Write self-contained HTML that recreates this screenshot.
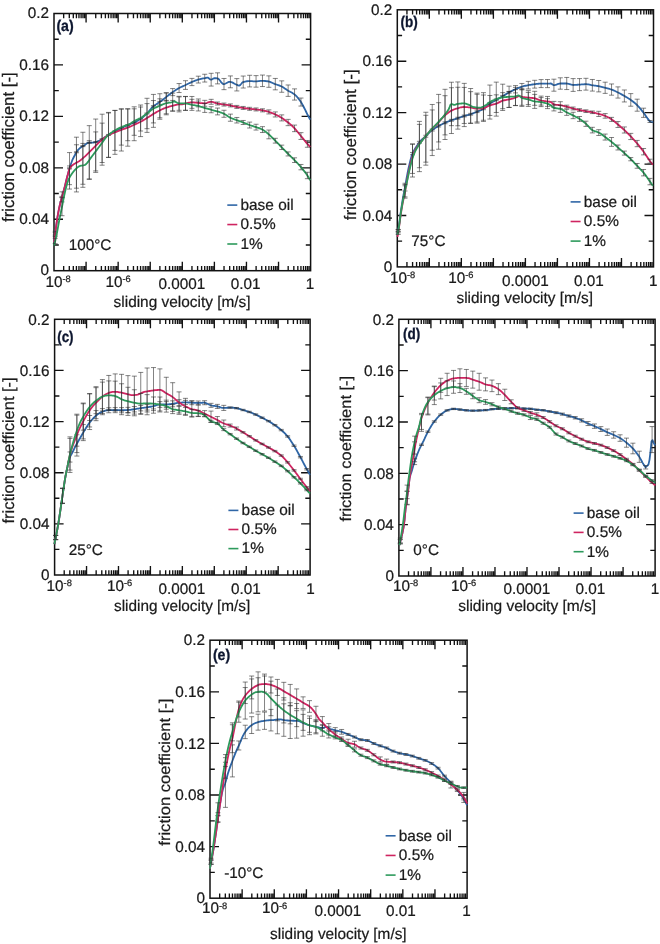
<!DOCTYPE html>
<html lang="en">
<head>
<meta charset="utf-8">
<title>Friction coefficient vs sliding velocity</title>
<style>
html,body{margin:0;padding:0;background:#fff;}
body{width:660px;height:944px;overflow:hidden;}
svg{display:block;will-change:transform;}
text{font-family:"Liberation Sans",sans-serif;fill:#1a1a1a;stroke:#1a1a1a;stroke-width:0.22px;text-rendering:geometricPrecision;}
.tk{font-size:15.3px;}
.tk2{font-size:15.3px;}
.lg{font-size:15.4px;}
.sup{font-size:9.3px;}
.ti{font-size:15.5px;}
.ty{font-size:16.7px;}
.tag{font-size:15.6px;font-weight:bold;fill:#0e1730;stroke:#0e1730;stroke-width:0.3px;font-family:"Liberation Sans","DejaVu Sans",sans-serif;}
</style>
</head>
<body>
<svg width="660" height="944" viewBox="0 0 660 944">
<rect width="660" height="944" fill="#ffffff"/>
<g>
<rect x="54" y="13.5" width="256.6" height="257.2" fill="none" stroke="#111111" stroke-width="1.5"/>
<path d="M63.66 270.7v-4.8M63.66 13.5v4.8M69.3 270.7v-4.8M69.3 13.5v4.8M73.31 270.7v-4.8M73.31 13.5v4.8M76.42 270.7v-4.8M76.42 13.5v4.8M78.96 270.7v-4.8M78.96 13.5v4.8M81.11 270.7v-4.8M81.11 13.5v4.8M82.97 270.7v-4.8M82.97 13.5v4.8M84.61 270.7v-4.8M84.61 13.5v4.8M86.08 270.7v-9M86.08 13.5v9M95.73 270.7v-4.8M95.73 13.5v4.8M101.38 270.7v-4.8M101.38 13.5v4.8M105.39 270.7v-4.8M105.39 13.5v4.8M108.49 270.7v-4.8M108.49 13.5v4.8M111.03 270.7v-4.8M111.03 13.5v4.8M113.18 270.7v-4.8M113.18 13.5v4.8M115.04 270.7v-4.8M115.04 13.5v4.8M116.68 270.7v-4.8M116.68 13.5v4.8M118.15 270.7v-9M118.15 13.5v9M127.81 270.7v-4.8M127.81 13.5v4.8M133.45 270.7v-4.8M133.45 13.5v4.8M137.46 270.7v-4.8M137.46 13.5v4.8M140.57 270.7v-4.8M140.57 13.5v4.8M143.11 270.7v-4.8M143.11 13.5v4.8M145.26 270.7v-4.8M145.26 13.5v4.8M147.12 270.7v-4.8M147.12 13.5v4.8M148.76 270.7v-4.8M148.76 13.5v4.8M150.23 270.7v-9M150.23 13.5v9M159.88 270.7v-4.8M159.88 13.5v4.8M165.53 270.7v-4.8M165.53 13.5v4.8M169.54 270.7v-4.8M169.54 13.5v4.8M172.64 270.7v-4.8M172.64 13.5v4.8M175.18 270.7v-4.8M175.18 13.5v4.8M177.33 270.7v-4.8M177.33 13.5v4.8M179.19 270.7v-4.8M179.19 13.5v4.8M180.83 270.7v-4.8M180.83 13.5v4.8M182.3 270.7v-9M182.3 13.5v9M191.96 270.7v-4.8M191.96 13.5v4.8M197.6 270.7v-4.8M197.6 13.5v4.8M201.61 270.7v-4.8M201.61 13.5v4.8M204.72 270.7v-4.8M204.72 13.5v4.8M207.26 270.7v-4.8M207.26 13.5v4.8M209.41 270.7v-4.8M209.41 13.5v4.8M211.27 270.7v-4.8M211.27 13.5v4.8M212.91 270.7v-4.8M212.91 13.5v4.8M214.38 270.7v-9M214.38 13.5v9M224.03 270.7v-4.8M224.03 13.5v4.8M229.68 270.7v-4.8M229.68 13.5v4.8M233.69 270.7v-4.8M233.69 13.5v4.8M236.79 270.7v-4.8M236.79 13.5v4.8M239.33 270.7v-4.8M239.33 13.5v4.8M241.48 270.7v-4.8M241.48 13.5v4.8M243.34 270.7v-4.8M243.34 13.5v4.8M244.98 270.7v-4.8M244.98 13.5v4.8M246.45 270.7v-9M246.45 13.5v9M256.11 270.7v-4.8M256.11 13.5v4.8M261.75 270.7v-4.8M261.75 13.5v4.8M265.76 270.7v-4.8M265.76 13.5v4.8M268.87 270.7v-4.8M268.87 13.5v4.8M271.41 270.7v-4.8M271.41 13.5v4.8M273.56 270.7v-4.8M273.56 13.5v4.8M275.42 270.7v-4.8M275.42 13.5v4.8M277.06 270.7v-4.8M277.06 13.5v4.8M278.53 270.7v-9M278.53 13.5v9M288.18 270.7v-4.8M288.18 13.5v4.8M293.83 270.7v-4.8M293.83 13.5v4.8M297.84 270.7v-4.8M297.84 13.5v4.8M300.94 270.7v-4.8M300.94 13.5v4.8M303.48 270.7v-4.8M303.48 13.5v4.8M305.63 270.7v-4.8M305.63 13.5v4.8M307.49 270.7v-4.8M307.49 13.5v4.8M309.13 270.7v-4.8M309.13 13.5v4.8M54 244.98h4.8M310.6 244.98h-4.8M54 219.26h9M310.6 219.26h-9M54 193.54h4.8M310.6 193.54h-4.8M54 167.82h9M310.6 167.82h-9M54 142.1h4.8M310.6 142.1h-4.8M54 116.38h9M310.6 116.38h-9M54 90.66h4.8M310.6 90.66h-4.8M54 64.94h9M310.6 64.94h-9M54 39.22h4.8M310.6 39.22h-4.8" stroke="#111111" stroke-width="1.35" fill="none"/>
<path d="M54.1 242.1 L55.1 234.57 L56.1 226.99 L57.1 219.46 L58.1 213.42 L59.1 208.3 L60.1 203.97 L61.1 200.1 L62.1 196.57 L63.1 193.1 L64.1 189.32 L65.1 185.39 L66.1 181.34 L67.1 177.25 L68.1 173.45 L69.1 169.84 L70.1 166.54 L71.1 163.46 L72.1 160.74 L73.1 158.49 L74.1 156.52 L75.1 154.7 L76.1 152.91 L77.1 151.25 L78.1 149.88 L79.1 148.81 L80.1 147.91 L81.1 147.18 L82.1 146.56 L83.1 146 L84.1 145.42 L85.1 144.72 L86.1 143.91 L87.1 143.22 L88.1 142.89 L89.1 142.79 L90.1 142.72 L91.1 142.68 L92.1 142.63 L93.1 142.57 L94.1 142.46 L95.1 142.26 L96.1 141.97 L97.1 141.61 L98.1 141.2 L99.1 140.77 L100.1 140.32 L101.1 139.78 L102.1 139.17 L103.1 138.5 L104.1 137.8 L105.1 137.11 L106.1 136.43 L107.1 135.8 L108.1 135.2 L109.1 134.61 L110.1 134.03 L111.1 133.45 L112.1 132.88 L113.1 132.32 L114.1 131.78 L115.1 131.24 L116.1 130.72 L117.1 130.2 L118.1 129.69 L119.1 129.19 L120.1 128.7 L121.1 128.22 L122.1 127.74 L123.1 127.27 L124.1 126.8 L125.1 126.34 L126.1 125.89 L127.1 125.44 L128.1 125.01 L129.1 124.58 L130.1 124.16 L131.1 123.77 L132.1 123.41 L133.1 123.03 L134.1 122.6 L135.1 122.12 L136.1 121.59 L137.1 121.03 L138.1 120.43 L139.1 119.8 L140.1 119.14 L141.1 118.45 L142.1 117.72 L143.1 116.94 L144.1 116.12 L145.1 115.25 L146.1 114.35 L147.1 113.4 L148.1 112.34 L149.1 111.15 L150.1 109.91 L151.1 108.7 L152.1 107.57 L153.1 106.61 L154.1 105.8 L155.1 105.06 L156.1 104.38 L157.1 103.73 L158.1 103.07 L159.1 102.39 L160.1 101.66 L161.1 100.92 L162.1 100.18 L163.1 99.42 L164.1 98.67 L165.1 97.91 L166.1 97.15 L167.1 96.37 L168.1 95.58 L169.1 94.79 L170.1 94.01 L171.1 93.24 L172.1 92.51 L173.1 91.81 L174.1 91.12 L175.1 90.45 L176.1 89.8 L177.1 89.18 L178.1 88.59 L179.1 88.04 L180.1 87.53 L181.1 87.06 L182.1 86.6 L183.1 86.15 L184.1 85.71 L185.1 85.25 L186.1 84.77 L187.1 84.28 L188.1 83.78 L189.1 83.29 L190.1 82.82 L191.1 82.36 L192.1 81.93 L193.1 81.51 L194.1 81.09 L195.1 80.7 L196.1 80.32 L197.1 79.98 L198.1 79.67 L199.1 79.4 L200.1 79.15 L201.1 78.92 L202.1 78.7 L203.1 78.49 L204.1 78.28 L205.1 78.06 L206.1 77.81 L207.1 77.63 L208.1 77.72 L209.1 78.47 L210.1 79.34 L211.1 79.7 L212.1 79.33 L213.1 78.69 L214.1 78.23 L215.1 78.21 L216.1 78.24 L217.1 78.29 L218.1 78.59 L219.1 79.5 L220.1 80.77 L221.1 82.12 L222.1 83.29 L223.1 84 L224.1 84.06 L225.1 83.76 L226.1 83.28 L227.1 82.73 L228.1 82.22 L229.1 81.88 L230.1 81.81 L231.1 82.01 L232.1 82.39 L233.1 82.89 L234.1 83.45 L235.1 83.99 L236.1 84.46 L237.1 84.91 L238.1 85.36 L239.1 85.6 L240.1 85.15 L241.1 83.98 L242.1 82.74 L243.1 82.07 L244.1 81.81 L245.1 81.58 L246.1 81.4 L247.1 81.25 L248.1 81.15 L249.1 81.1 L250.1 81.11 L251.1 81.15 L252.1 81.22 L253.1 81.29 L254.1 81.35 L255.1 81.39 L256.1 81.39 L257.1 81.32 L258.1 81.21 L259.1 81.08 L260.1 80.95 L261.1 80.85 L262.1 80.8 L263.1 80.82 L264.1 80.88 L265.1 80.98 L266.1 81.11 L267.1 81.26 L268.1 81.43 L269.1 81.63 L270.1 81.92 L271.1 82.31 L272.1 82.74 L273.1 83.2 L274.1 83.65 L275.1 84.06 L276.1 84.43 L277.1 84.77 L278.1 85.11 L279.1 85.46 L280.1 85.84 L281.1 86.26 L282.1 86.75 L283.1 87.33 L284.1 87.98 L285.1 88.66 L286.1 89.35 L287.1 90.03 L288.1 90.66 L289.1 91.23 L290.1 91.76 L291.1 92.28 L292.1 92.82 L293.1 93.43 L294.1 94.12 L295.1 94.95 L296.1 95.91 L297.1 96.98 L298.1 98.17 L299.1 99.44 L300.1 100.8 L301.1 102.25 L302.1 103.94 L303.1 105.8 L304.1 107.72 L305.1 109.68 L306.1 111.75 L307.1 113.8 L308.1 115.75 L309.1 117.64 L310.1 119.51 L310.2 119.7" stroke="#2f66a6" stroke-width="1.8" fill="none" stroke-linejoin="round"/>
<path d="M55.2 232.64V234.99M52.7 232.64h5M52.7 234.99h5M62.02 196.36V197.36M59.52 196.36h5M59.52 197.36h5M69.53 167.88V168.88M67.03 167.88h5M67.03 168.88h5M76.45 151.81V152.81M73.95 151.81h5M73.95 152.81h5M82.86 145.63V146.63M80.36 145.63h5M80.36 146.63h5M89.28 142.27V143.27M86.78 142.27h5M86.78 143.27h5M95.69 141.6V142.6M93.19 141.6h5M93.19 142.6h5M102.11 138.66V139.66M99.61 138.66h5M99.61 139.66h5M108.52 134.45V135.45M106.02 134.45h5M106.02 135.45h5M114.94 130.83V131.83M112.44 130.83h5M112.44 131.83h5M121.35 127.6V128.6M118.85 127.6h5M118.85 128.6h5M127.77 124.65V125.65M125.27 124.65h5M125.27 125.65h5M134.18 122.06V123.06M131.68 122.06h5M131.68 123.06h5M140.6 118.3V119.3M138.1 118.3h5M138.1 119.3h5M147.01 112.99V113.99M144.51 112.99h5M144.51 113.99h5M153.43 105.67V107M150.93 105.67h5M150.93 107h5M159.84 98.8V104.9M157.34 98.8h5M157.34 104.9h5M166.26 93.05V101.01M163.76 93.05h5M163.76 101.01h5M172.67 88.57V95.65M170.17 88.57h5M170.17 95.65h5M179.09 83.55V92.54M176.59 83.55h5M176.59 92.54h5M185.5 80.71V89.4M183 80.71h5M183 89.4h5M191.91 78.4V85.62M189.41 78.4h5M189.41 85.62h5M198.33 76.19V83.03M195.83 76.19h5M195.83 83.03h5M204.74 74.25V82.04M202.24 74.25h5M202.24 82.04h5M211.16 73.31V86.07M208.66 73.31h5M208.66 86.07h5M217.57 72.84V83.86M215.07 72.84h5M215.07 83.86h5M223.99 78.47V89.67M221.49 78.47h5M221.49 89.67h5M230.4 75.93V87.77M227.9 75.93h5M227.9 87.77h5M236.82 78.6V90.95M234.32 78.6h5M234.32 90.95h5M243.23 76.04V88.03M240.73 76.04h5M240.73 88.03h5M249.65 75.29V86.91M247.15 75.29h5M247.15 86.91h5M256.06 75.62V87.17M253.56 75.62h5M253.56 87.17h5M262.48 75.05V86.55M259.98 75.05h5M259.98 86.55h5M268.89 75.85V87.3M266.39 75.85h5M266.39 87.3h5M275.31 78.44V89.84M272.81 78.44h5M272.81 89.84h5M281.73 80.86V92.26M279.23 80.86h5M279.23 92.26h5M288.14 84.98V96.38M285.64 84.98h5M285.64 96.38h5M294.56 88.88V100.08M292.06 88.88h5M292.06 100.08h5M300.97 98.04V106.06M298.47 98.04h5M298.47 106.06h5" stroke="#2b2b2b" stroke-width="0.65" fill="none" opacity="0.9"/>
<path d="M54.1 242.1 L55.1 234.57 L56.1 226.99 L57.1 219.46 L58.1 213.42 L59.1 208.3 L60.1 203.97 L61.1 200.1 L62.1 196.57 L63.1 193.1 L64.1 189.32 L65.1 185.39 L66.1 181.31 L67.1 177.21 L68.1 173.41 L69.1 169.78 L70.1 167.65 L71.1 166.42 L72.1 165.52 L73.1 164.75 L74.1 164.03 L75.1 163.42 L76.1 162.87 L77.1 162.35 L78.1 161.79 L79.1 161.17 L80.1 160.46 L81.1 159.7 L82.1 158.9 L83.1 158.06 L84.1 157.19 L85.1 156.31 L86.1 155.39 L87.1 154.43 L88.1 153.44 L89.1 152.44 L90.1 151.42 L91.1 150.4 L92.1 149.4 L93.1 148.39 L94.1 147.36 L95.1 146.32 L96.1 145.29 L97.1 144.28 L98.1 143.3 L99.1 142.36 L100.1 141.47 L101.1 140.57 L102.1 139.7 L103.1 138.84 L104.1 138.03 L105.1 137.26 L106.1 136.56 L107.1 135.94 L108.1 135.39 L109.1 134.87 L110.1 134.4 L111.1 133.95 L112.1 133.52 L113.1 133.1 L114.1 132.69 L115.1 132.28 L116.1 131.87 L117.1 131.48 L118.1 131.1 L119.1 130.72 L120.1 130.35 L121.1 129.98 L122.1 129.61 L123.1 129.24 L124.1 128.88 L125.1 128.53 L126.1 128.17 L127.1 127.82 L128.1 127.45 L129.1 127.06 L130.1 126.66 L131.1 126.22 L132.1 125.75 L133.1 125.27 L134.1 124.8 L135.1 124.35 L136.1 123.9 L137.1 123.46 L138.1 123.01 L139.1 122.54 L140.1 122.06 L141.1 121.54 L142.1 120.98 L143.1 120.4 L144.1 119.79 L145.1 119.18 L146.1 118.56 L147.1 117.94 L148.1 117.31 L149.1 116.67 L150.1 116.03 L151.1 115.38 L152.1 114.75 L153.1 114.14 L154.1 113.54 L155.1 112.94 L156.1 112.35 L157.1 111.78 L158.1 111.23 L159.1 110.7 L160.1 110.2 L161.1 109.72 L162.1 109.25 L163.1 108.8 L164.1 108.38 L165.1 107.98 L166.1 107.63 L167.1 107.31 L168.1 107.02 L169.1 106.74 L170.1 106.48 L171.1 106.23 L172.1 105.98 L173.1 105.71 L174.1 105.41 L175.1 105.1 L176.1 104.81 L177.1 104.58 L178.1 104.43 L179.1 104.4 L180.1 104.4 L181.1 104.4 L182.1 104.39 L183.1 104.2 L184.1 103.9 L185.1 103.62 L186.1 103.4 L187.1 103.15 L188.1 102.91 L189.1 102.69 L190.1 102.52 L191.1 102.42 L192.1 102.4 L193.1 102.45 L194.1 102.52 L195.1 102.62 L196.1 102.73 L197.1 102.83 L198.1 102.91 L199.1 102.98 L200.1 103.07 L201.1 103.15 L202.1 103.22 L203.1 103.27 L204.1 103.3 L205.1 103.26 L206.1 103.07 L207.1 102.77 L208.1 102.43 L209.1 102.11 L210.1 101.88 L211.1 101.8 L212.1 101.9 L213.1 102.14 L214.1 102.46 L215.1 102.81 L216.1 103.14 L217.1 103.4 L218.1 103.6 L219.1 103.78 L220.1 103.96 L221.1 104.12 L222.1 104.28 L223.1 104.43 L224.1 104.57 L225.1 104.7 L226.1 104.82 L227.1 104.93 L228.1 105.05 L229.1 105.19 L230.1 105.35 L231.1 105.56 L232.1 105.8 L233.1 106.06 L234.1 106.32 L235.1 106.56 L236.1 106.78 L237.1 106.97 L238.1 107.14 L239.1 107.31 L240.1 107.46 L241.1 107.62 L242.1 107.77 L243.1 107.91 L244.1 108.06 L245.1 108.21 L246.1 108.36 L247.1 108.5 L248.1 108.63 L249.1 108.75 L250.1 108.87 L251.1 108.97 L252.1 109.06 L253.1 109.15 L254.1 109.24 L255.1 109.35 L256.1 109.46 L257.1 109.57 L258.1 109.69 L259.1 109.82 L260.1 109.96 L261.1 110.1 L262.1 110.27 L263.1 110.45 L264.1 110.65 L265.1 110.88 L266.1 111.13 L267.1 111.4 L268.1 111.68 L269.1 111.98 L270.1 112.32 L271.1 112.68 L272.1 113.07 L273.1 113.48 L274.1 113.91 L275.1 114.36 L276.1 114.82 L277.1 115.31 L278.1 115.82 L279.1 116.36 L280.1 116.93 L281.1 117.52 L282.1 118.13 L283.1 118.79 L284.1 119.47 L285.1 120.18 L286.1 120.92 L287.1 121.69 L288.1 122.48 L289.1 123.3 L290.1 124.14 L291.1 125.02 L292.1 125.94 L293.1 126.9 L294.1 127.9 L295.1 128.96 L296.1 130.1 L297.1 131.29 L298.1 132.52 L299.1 133.76 L300.1 134.99 L301.1 136.21 L302.1 137.43 L303.1 138.67 L304.1 139.92 L305.1 141.15 L306.1 142.37 L307.1 143.55 L308.1 144.69 L309.1 145.79 L310.1 146.89 L310.2 147" stroke="#cf2460" stroke-width="1.8" fill="none" stroke-linejoin="round"/>
<path d="M55.2 231.24V236.39M52.7 231.24h5M52.7 236.39h5M62.02 191.84V201.89M59.52 191.84h5M59.52 201.89h5M69.53 152.58V184.67M67.03 152.58h5M67.03 184.67h5M76.45 137.19V188.19M73.95 137.19h5M73.95 188.19h5M82.86 132.25V184.28M80.36 132.25h5M80.36 184.28h5M89.28 125.65V178.86M86.78 125.65h5M86.78 178.86h5M95.69 119.05V172.38M93.19 119.05h5M93.19 172.38h5M102.11 114.19V165.19M99.61 114.19h5M99.61 165.19h5M108.52 112.97V157.36M106.02 112.97h5M106.02 157.36h5M114.94 110.36V154.33M112.44 110.36h5M112.44 154.33h5M121.35 108.75V151.03M118.85 108.75h5M118.85 151.03h5M127.77 108.94V146.2M125.27 108.94h5M125.27 146.2h5M134.18 108.81V140.71M131.68 108.81h5M131.68 140.71h5M140.6 107V136.6M138.1 107h5M138.1 136.6h5M147.01 103.6V132.39M144.51 103.6h5M144.51 132.39h5M153.43 100.55V127.34M150.93 100.55h5M150.93 127.34h5M159.84 101.42V119.24M157.34 101.42h5M157.34 119.24h5M166.26 100.36V114.8M163.76 100.36h5M163.76 114.8h5M172.67 100.44V111.22M170.17 100.44h5M170.17 111.22h5M179.09 96.92V111.88M176.59 96.92h5M176.59 111.88h5M185.5 96.61V110.46M183 96.61h5M183 110.46h5M191.91 96.47V108.33M189.41 96.47h5M189.41 108.33h5M198.33 98.98V106.87M195.83 98.98h5M195.83 106.87h5M204.74 100.35V106.24M202.24 100.35h5M202.24 106.24h5M211.16 99.33V104.28M208.66 99.33h5M208.66 104.28h5M217.57 102V105M215.07 102h5M215.07 105h5M223.99 103.06V106.06M221.49 103.06h5M221.49 106.06h5M230.4 103.91V106.91M227.9 103.91h5M227.9 106.91h5M236.82 105.42V108.42M234.32 105.42h5M234.32 108.42h5M243.23 106.44V109.44M240.73 106.44h5M240.73 109.44h5M249.65 107.32V110.32M247.15 107.32h5M247.15 110.32h5M256.06 107.95V110.95M253.56 107.95h5M253.56 110.95h5M262.48 108.79V111.87M259.98 108.79h5M259.98 111.87h5M268.89 109.89V113.95M266.39 109.89h5M266.39 113.95h5M275.31 111.92V116.98M272.81 111.92h5M272.81 116.98h5M281.73 114.89V120.91M279.23 114.89h5M279.23 120.91h5M288.14 119.37V125.66M285.64 119.37h5M285.64 125.66h5M294.56 125.09V131.65M292.06 125.09h5M292.06 131.65h5M300.97 132.65V139.45M298.47 132.65h5M298.47 139.45h5M307.39 140.48V147.28M304.89 140.48h5M304.89 147.28h5" stroke="#2b2b2b" stroke-width="0.65" fill="none" opacity="0.9"/>
<path d="M54.2 245.5 L55.2 240.96 L56.2 236.43 L57.2 231.6 L58.2 226.12 L59.2 220.52 L60.2 215.53 L61.2 210.74 L62.2 205.75 L63.2 200.54 L64.2 195.67 L65.2 191.13 L66.2 187.07 L67.2 183.53 L68.2 180.45 L69.2 178.14 L70.2 176.36 L71.2 174.79 L72.2 173.31 L73.2 171.94 L74.2 170.73 L75.2 169.65 L76.2 168.59 L77.2 167.63 L78.2 166.84 L79.2 166.3 L80.2 165.97 L81.2 165.73 L82.2 165.51 L83.2 165.3 L84.2 165.12 L85.2 164.81 L86.2 164.01 L87.2 162.91 L88.2 161.65 L89.2 160.16 L90.2 158.73 L91.2 157.37 L92.2 156.03 L93.2 154.71 L94.2 153.39 L95.2 152.07 L96.2 150.73 L97.2 149.4 L98.2 148.07 L99.2 146.73 L100.2 145.4 L101.2 144.07 L102.2 142.7 L103.2 141.26 L104.2 139.81 L105.2 138.42 L106.2 137.17 L107.2 136.1 L108.2 135.18 L109.2 134.34 L110.2 133.55 L111.2 132.82 L112.2 132.13 L113.2 131.48 L114.2 130.86 L115.2 130.26 L116.2 129.7 L117.2 129.16 L118.2 128.64 L119.2 128.15 L120.2 127.68 L121.2 127.23 L122.2 126.79 L123.2 126.37 L124.2 126 L125.2 125.65 L126.2 125.31 L127.2 124.96 L128.2 124.59 L129.2 124.17 L130.2 123.7 L131.2 123.08 L132.2 122.37 L133.2 121.66 L134.2 121.04 L135.2 120.53 L136.2 120.06 L137.2 119.62 L138.2 119.19 L139.2 118.73 L140.2 118.22 L141.2 117.65 L142.2 117.01 L143.2 116.31 L144.2 115.59 L145.2 114.84 L146.2 114.09 L147.2 113.35 L148.2 112.57 L149.2 111.75 L150.2 110.92 L151.2 110.13 L152.2 109.4 L153.2 108.79 L154.2 108.25 L155.2 107.76 L156.2 107.3 L157.2 106.87 L158.2 106.45 L159.2 106.03 L160.2 105.59 L161.2 105.14 L162.2 104.68 L163.2 104.24 L164.2 103.84 L165.2 103.5 L166.2 103.23 L167.2 103.02 L168.2 102.85 L169.2 102.7 L170.2 102.55 L171.2 102.38 L172.2 102.15 L173.2 101.74 L174.2 101.4 L175.2 101.63 L176.2 102.17 L177.2 102.77 L178.2 103.21 L179.2 103.3 L180.2 103.3 L181.2 103.3 L182.2 103.3 L183.2 103.3 L184.2 103.3 L185.2 103.3 L186.2 103.37 L187.2 103.55 L188.2 103.82 L189.2 104.12 L190.2 104.42 L191.2 104.69 L192.2 104.9 L193.2 105.07 L194.2 105.23 L195.2 105.39 L196.2 105.55 L197.2 105.73 L198.2 105.95 L199.2 106.2 L200.2 106.5 L201.2 106.83 L202.2 107.16 L203.2 107.5 L204.2 107.81 L205.2 108.1 L206.2 108.39 L207.2 108.66 L208.2 108.94 L209.2 109.21 L210.2 109.48 L211.2 109.75 L212.2 110.02 L213.2 110.28 L214.2 110.54 L215.2 110.8 L216.2 111.08 L217.2 111.37 L218.2 111.67 L219.2 111.98 L220.2 112.31 L221.2 112.65 L222.2 113.02 L223.2 113.43 L224.2 113.89 L225.2 114.47 L226.2 115.12 L227.2 115.81 L228.2 116.48 L229.2 117.08 L230.2 117.59 L231.2 118.05 L232.2 118.47 L233.2 118.87 L234.2 119.25 L235.2 119.62 L236.2 120 L237.2 120.37 L238.2 120.72 L239.2 121.07 L240.2 121.41 L241.2 121.75 L242.2 122.11 L243.2 122.48 L244.2 122.87 L245.2 123.28 L246.2 123.69 L247.2 124.11 L248.2 124.51 L249.2 124.89 L250.2 125.25 L251.2 125.58 L252.2 125.9 L253.2 126.21 L254.2 126.53 L255.2 126.86 L256.2 127.21 L257.2 127.54 L258.2 127.87 L259.2 128.21 L260.2 128.58 L261.2 128.99 L262.2 129.45 L263.2 130 L264.2 130.65 L265.2 131.38 L266.2 132.17 L267.2 133 L268.2 133.85 L269.2 134.7 L270.2 135.62 L271.2 136.57 L272.2 137.56 L273.2 138.57 L274.2 139.59 L275.2 140.6 L276.2 141.61 L277.2 142.64 L278.2 143.67 L279.2 144.71 L280.2 145.76 L281.2 146.79 L282.2 147.83 L283.2 148.87 L284.2 149.91 L285.2 150.95 L286.2 151.98 L287.2 153 L288.2 154 L289.2 154.97 L290.2 155.93 L291.2 156.88 L292.2 157.83 L293.2 158.8 L294.2 159.8 L295.2 160.82 L296.2 161.86 L297.2 162.91 L298.2 163.99 L299.2 165.09 L300.2 166.23 L301.2 167.41 L302.2 168.6 L303.2 169.82 L304.2 171.08 L305.2 172.38 L306.2 173.76 L307.2 175.2 L308.2 176.79 L309.2 178.54 L310.2 180.3" stroke="#2d9a5c" stroke-width="1.8" fill="none" stroke-linejoin="round"/>
<path d="M55.2 238.27V243.66M52.7 238.27h5M52.7 243.66h5M62.02 197.7V215.71M59.52 197.7h5M59.52 215.71h5M69.53 165.95V189.07M67.03 165.95h5M67.03 189.07h5M76.45 144.75V191.93M73.95 144.75h5M73.95 191.93h5M82.86 143.43V187.3M80.36 143.43h5M80.36 187.3h5M89.28 140.65V179.45M86.78 140.65h5M86.78 179.45h5M95.69 131.91V170.92M93.19 131.91h5M93.19 170.92h5M102.11 123.13V162.53M99.61 123.13h5M99.61 162.53h5M108.52 112.41V157.4M106.02 112.41h5M106.02 157.4h5M114.94 110.46V150.38M112.44 110.46h5M112.44 150.38h5M121.35 109.21V145.11M118.85 109.21h5M118.85 145.11h5M127.77 108.8V140.71M125.27 108.8h5M125.27 140.71h5M134.18 106.81V135.3M131.68 106.81h5M131.68 135.3h5M140.6 105V131M138.1 105h5M138.1 131h5M147.01 98.29V128.69M144.51 98.29h5M144.51 128.69h5M153.43 94.41V122.91M150.93 94.41h5M150.93 122.91h5M159.84 93.73V117.77M157.34 93.73h5M157.34 117.77h5M166.26 92.68V113.75M163.76 92.68h5M163.76 113.75h5M172.67 93.09V110.92M170.17 93.09h5M170.17 110.92h5M179.09 96.3V110.3M176.59 96.3h5M176.59 110.3h5M185.5 96.41V110.2M183 96.41h5M183 110.2h5M191.91 99.32V110.36M189.41 99.32h5M189.41 110.36h5M198.33 101V110.95M195.83 101h5M195.83 110.95h5M204.74 103.53V112.41M202.24 103.53h5M202.24 112.41h5M211.16 106.73V112.75M208.66 106.73h5M208.66 112.75h5M217.57 108.07V114.89M215.07 108.07h5M215.07 114.89h5M223.99 110.28V117.29M221.49 110.28h5M221.49 117.29h5M230.4 114.14V121.24M227.9 114.14h5M227.9 121.24h5M236.82 117.47V122.99M234.32 117.47h5M234.32 122.99h5M243.23 120.46V124.52M240.73 120.46h5M240.73 124.52h5M249.65 122.1V128M247.15 122.1h5M247.15 128h5M256.06 124.26V130.06M253.56 124.26h5M253.56 130.06h5M262.48 126.67V132.52M259.98 126.67h5M259.98 132.52h5M268.89 130.06V138.81M266.39 130.06h5M266.39 138.81h5M275.31 138.32V143.1M272.81 138.32h5M272.81 143.1h5M281.73 145.14V149.53M279.23 145.14h5M279.23 149.53h5M288.14 151.93V155.95M285.64 151.93h5M285.64 155.95h5M294.56 157.83V162.49M292.06 157.83h5M292.06 162.49h5M300.97 164.46V169.81M298.47 164.46h5M298.47 169.81h5M307.39 172.27V178.68M304.89 172.27h5M304.89 178.68h5" stroke="#2b2b2b" stroke-width="0.65" fill="none" opacity="0.9"/>
<text x="49" y="274.6" text-anchor="end" class="tk">0</text>
<text x="49" y="223.96" text-anchor="end" class="tk">0.04</text>
<text x="49" y="172.52" text-anchor="end" class="tk">0.08</text>
<text x="49" y="121.08" text-anchor="end" class="tk">0.12</text>
<text x="49" y="69.64" text-anchor="end" class="tk">0.16</text>
<text x="49" y="18.2" text-anchor="end" class="tk">0.2</text>
<text x="45.4" y="286.55" class="tk">10<tspan dy="-4.7" class="sup">-8</tspan></text>
<text x="105.4" y="286.55" class="tk">10<tspan dy="-4.7" class="sup">-6</tspan></text>
<text x="182" y="289.15" class="tk" text-anchor="middle">0.0001</text>
<text x="245.6" y="289.15" class="tk" text-anchor="middle">0.01</text>
<text x="310" y="289.15" class="tk" text-anchor="middle">1</text>
<text x="113.6" y="306.5" class="ti" textLength="136.9" lengthAdjust="spacingAndGlyphs">sliding velocity [m/s]</text>
<text transform="translate(13.5 222) rotate(-90)" class="ty" style="font-size:16.7px" textLength="149.8" lengthAdjust="spacingAndGlyphs">friction coefficient [-]</text>
<text x="56.4" y="31" class="tag" textLength="17.3" lengthAdjust="spacingAndGlyphs">(a)</text>
<text x="68.65" y="249.9" class="tk2">100°C</text>
<path d="M227.3 205.1h10" stroke="#2f66a6" stroke-width="1.6"/>
<text x="240.5" y="209.9" class="lg">base oil</text>
<path d="M227.3 224.55h10" stroke="#cf2460" stroke-width="1.6"/>
<text x="240.5" y="229.35" class="lg">0.5%</text>
<path d="M227.3 244h10" stroke="#2d9a5c" stroke-width="1.6"/>
<text x="240.5" y="248.8" class="lg">1%</text>
</g>
<g>
<rect x="397.3" y="9.8" width="256.2" height="257.1" fill="none" stroke="#111111" stroke-width="1.5"/>
<path d="M406.94 266.9v-4.8M406.94 9.8v4.8M412.58 266.9v-4.8M412.58 9.8v4.8M416.58 266.9v-4.8M416.58 9.8v4.8M419.68 266.9v-4.8M419.68 9.8v4.8M422.22 266.9v-4.8M422.22 9.8v4.8M424.36 266.9v-4.8M424.36 9.8v4.8M426.22 266.9v-4.8M426.22 9.8v4.8M427.86 266.9v-4.8M427.86 9.8v4.8M429.32 266.9v-9M429.32 9.8v9M438.97 266.9v-4.8M438.97 9.8v4.8M444.6 266.9v-4.8M444.6 9.8v4.8M448.61 266.9v-4.8M448.61 9.8v4.8M451.71 266.9v-4.8M451.71 9.8v4.8M454.25 266.9v-4.8M454.25 9.8v4.8M456.39 266.9v-4.8M456.39 9.8v4.8M458.25 266.9v-4.8M458.25 9.8v4.8M459.88 266.9v-4.8M459.88 9.8v4.8M461.35 266.9v-9M461.35 9.8v9M470.99 266.9v-4.8M470.99 9.8v4.8M476.63 266.9v-4.8M476.63 9.8v4.8M480.63 266.9v-4.8M480.63 9.8v4.8M483.73 266.9v-4.8M483.73 9.8v4.8M486.27 266.9v-4.8M486.27 9.8v4.8M488.41 266.9v-4.8M488.41 9.8v4.8M490.27 266.9v-4.8M490.27 9.8v4.8M491.91 266.9v-4.8M491.91 9.8v4.8M493.38 266.9v-9M493.38 9.8v9M503.02 266.9v-4.8M503.02 9.8v4.8M508.65 266.9v-4.8M508.65 9.8v4.8M512.66 266.9v-4.8M512.66 9.8v4.8M515.76 266.9v-4.8M515.76 9.8v4.8M518.3 266.9v-4.8M518.3 9.8v4.8M520.44 266.9v-4.8M520.44 9.8v4.8M522.3 266.9v-4.8M522.3 9.8v4.8M523.93 266.9v-4.8M523.93 9.8v4.8M525.4 266.9v-9M525.4 9.8v9M535.04 266.9v-4.8M535.04 9.8v4.8M540.68 266.9v-4.8M540.68 9.8v4.8M544.68 266.9v-4.8M544.68 9.8v4.8M547.78 266.9v-4.8M547.78 9.8v4.8M550.32 266.9v-4.8M550.32 9.8v4.8M552.46 266.9v-4.8M552.46 9.8v4.8M554.32 266.9v-4.8M554.32 9.8v4.8M555.96 266.9v-4.8M555.96 9.8v4.8M557.42 266.9v-9M557.42 9.8v9M567.07 266.9v-4.8M567.07 9.8v4.8M572.7 266.9v-4.8M572.7 9.8v4.8M576.71 266.9v-4.8M576.71 9.8v4.8M579.81 266.9v-4.8M579.81 9.8v4.8M582.35 266.9v-4.8M582.35 9.8v4.8M584.49 266.9v-4.8M584.49 9.8v4.8M586.35 266.9v-4.8M586.35 9.8v4.8M587.98 266.9v-4.8M587.98 9.8v4.8M589.45 266.9v-9M589.45 9.8v9M599.09 266.9v-4.8M599.09 9.8v4.8M604.73 266.9v-4.8M604.73 9.8v4.8M608.73 266.9v-4.8M608.73 9.8v4.8M611.83 266.9v-4.8M611.83 9.8v4.8M614.37 266.9v-4.8M614.37 9.8v4.8M616.51 266.9v-4.8M616.51 9.8v4.8M618.37 266.9v-4.8M618.37 9.8v4.8M620.01 266.9v-4.8M620.01 9.8v4.8M621.48 266.9v-9M621.48 9.8v9M631.12 266.9v-4.8M631.12 9.8v4.8M636.75 266.9v-4.8M636.75 9.8v4.8M640.76 266.9v-4.8M640.76 9.8v4.8M643.86 266.9v-4.8M643.86 9.8v4.8M646.4 266.9v-4.8M646.4 9.8v4.8M648.54 266.9v-4.8M648.54 9.8v4.8M650.4 266.9v-4.8M650.4 9.8v4.8M652.03 266.9v-4.8M652.03 9.8v4.8M397.3 241.19h4.8M653.5 241.19h-4.8M397.3 215.48h9M653.5 215.48h-9M397.3 189.77h4.8M653.5 189.77h-4.8M397.3 164.06h9M653.5 164.06h-9M397.3 138.35h4.8M653.5 138.35h-4.8M397.3 112.64h9M653.5 112.64h-9M397.3 86.93h4.8M653.5 86.93h-4.8M397.3 61.22h9M653.5 61.22h-9M397.3 35.51h4.8M653.5 35.51h-4.8" stroke="#111111" stroke-width="1.35" fill="none"/>
<path d="M397.5 234.5 L398.5 228.77 L399.5 221.56 L400.5 213.9 L401.5 207.05 L402.5 200.7 L403.5 195.02 L404.5 189.8 L405.5 184.37 L406.5 178.65 L407.5 173.3 L408.5 168.5 L409.5 164.12 L410.5 160.07 L411.5 156.38 L412.5 153.62 L413.5 151.54 L414.5 149.72 L415.5 147.99 L416.5 146.39 L417.5 144.91 L418.5 143.51 L419.5 142.18 L420.5 140.96 L421.5 139.9 L422.5 139.04 L423.5 138.27 L424.5 137.47 L425.5 136.55 L426.5 135.53 L427.5 134.46 L428.5 133.39 L429.5 132.36 L430.5 131.42 L431.5 130.6 L432.5 129.85 L433.5 129.15 L434.5 128.48 L435.5 127.84 L436.5 127.23 L437.5 126.64 L438.5 126.07 L439.5 125.52 L440.5 124.98 L441.5 124.47 L442.5 123.97 L443.5 123.49 L444.5 123.03 L445.5 122.59 L446.5 122.17 L447.5 121.76 L448.5 121.37 L449.5 120.99 L450.5 120.62 L451.5 120.26 L452.5 119.92 L453.5 119.59 L454.5 119.27 L455.5 118.95 L456.5 118.63 L457.5 118.3 L458.5 117.96 L459.5 117.6 L460.5 117.24 L461.5 116.89 L462.5 116.55 L463.5 116.22 L464.5 115.92 L465.5 115.65 L466.5 115.4 L467.5 115.15 L468.5 114.89 L469.5 114.61 L470.5 114.3 L471.5 113.96 L472.5 113.58 L473.5 113.18 L474.5 112.77 L475.5 112.35 L476.5 111.94 L477.5 111.54 L478.5 111.16 L479.5 110.77 L480.5 110.36 L481.5 109.91 L482.5 109.42 L483.5 108.83 L484.5 108.1 L485.5 107.26 L486.5 106.36 L487.5 105.45 L488.5 104.59 L489.5 103.81 L490.5 103.14 L491.5 102.53 L492.5 101.95 L493.5 101.4 L494.5 100.85 L495.5 100.31 L496.5 99.74 L497.5 99.17 L498.5 98.61 L499.5 98.05 L500.5 97.48 L501.5 96.91 L502.5 96.33 L503.5 95.74 L504.5 95.13 L505.5 94.51 L506.5 93.88 L507.5 93.27 L508.5 92.69 L509.5 92.14 L510.5 91.62 L511.5 91.11 L512.5 90.62 L513.5 90.15 L514.5 89.69 L515.5 89.24 L516.5 88.8 L517.5 88.36 L518.5 87.92 L519.5 87.51 L520.5 87.13 L521.5 86.79 L522.5 86.5 L523.5 86.23 L524.5 85.98 L525.5 85.75 L526.5 85.53 L527.5 85.33 L528.5 85.14 L529.5 84.97 L530.5 84.8 L531.5 84.64 L532.5 84.49 L533.5 84.35 L534.5 84.22 L535.5 84.1 L536.5 83.98 L537.5 83.85 L538.5 83.74 L539.5 83.66 L540.5 83.61 L541.5 83.6 L542.5 83.6 L543.5 83.6 L544.5 83.6 L545.5 83.6 L546.5 83.6 L547.5 83.6 L548.5 83.58 L549.5 83.54 L550.5 83.5 L551.5 83.68 L552.5 84.43 L553.5 85.12 L554.5 85.16 L555.5 84.93 L556.5 84.59 L557.5 84.19 L558.5 83.83 L559.5 83.57 L560.5 83.5 L561.5 83.5 L562.5 83.5 L563.5 83.5 L564.5 83.5 L565.5 83.5 L566.5 83.5 L567.5 83.55 L568.5 83.76 L569.5 84.08 L570.5 84.42 L571.5 84.74 L572.5 84.95 L573.5 85 L574.5 84.97 L575.5 84.92 L576.5 84.85 L577.5 84.77 L578.5 84.69 L579.5 84.62 L580.5 84.55 L581.5 84.47 L582.5 84.39 L583.5 84.31 L584.5 84.25 L585.5 84.21 L586.5 84.21 L587.5 84.3 L588.5 84.46 L589.5 84.67 L590.5 84.9 L591.5 85.12 L592.5 85.3 L593.5 85.45 L594.5 85.58 L595.5 85.71 L596.5 85.84 L597.5 85.99 L598.5 86.15 L599.5 86.34 L600.5 86.56 L601.5 86.8 L602.5 87.07 L603.5 87.34 L604.5 87.61 L605.5 87.88 L606.5 88.14 L607.5 88.4 L608.5 88.66 L609.5 88.94 L610.5 89.24 L611.5 89.56 L612.5 89.92 L613.5 90.33 L614.5 90.77 L615.5 91.25 L616.5 91.75 L617.5 92.25 L618.5 92.75 L619.5 93.26 L620.5 93.8 L621.5 94.34 L622.5 94.9 L623.5 95.47 L624.5 96.04 L625.5 96.62 L626.5 97.21 L627.5 97.8 L628.5 98.41 L629.5 99.05 L630.5 99.72 L631.5 100.43 L632.5 101.17 L633.5 101.95 L634.5 102.77 L635.5 103.63 L636.5 104.54 L637.5 105.5 L638.5 106.54 L639.5 107.67 L640.5 108.86 L641.5 110.11 L642.5 111.38 L643.5 112.67 L644.5 114.02 L645.5 115.47 L646.5 116.93 L647.5 118.33 L648.5 119.62 L649.5 120.97 L650.5 121.8 L651.5 122.04 L652.5 122.19 L653.2 122.3" stroke="#2f66a6" stroke-width="1.8" fill="none" stroke-linejoin="round"/>
<path d="M398.2 229.45V231.63M395.7 229.45h5M395.7 231.63h5M405 183.25V190.99M402.5 183.25h5M402.5 190.99h5M412.51 152.46V154.73M410.01 152.46h5M410.01 154.73h5M419.41 141.3V143.27M416.91 141.3h5M416.91 143.27h5M425.82 135.26V137.2M423.32 135.26h5M423.32 137.2h5M432.22 129.09V131.01M429.72 129.09h5M429.72 131.01h5M438.63 125.05V126.94M436.13 125.05h5M436.13 126.94h5M445.03 121.86V123.73M442.53 121.86h5M442.53 123.73h5M451.44 119.36V121.2M448.94 119.36h5M448.94 121.2h5M457.84 117.28V119.09M455.34 117.28h5M455.34 119.09h5M464.25 115.1V116.89M461.75 115.1h5M461.75 116.89h5M470.65 113.37V115.13M468.15 113.37h5M468.15 115.13h5M477.06 110.85V112.58M474.56 110.85h5M474.56 112.58h5M483.46 108V109.71M480.96 108h5M480.96 109.71h5M489.87 102.71V104.39M487.37 102.71h5M487.37 104.39h5M496.27 99.04V100.7M493.77 99.04h5M493.77 100.7h5M502.68 95.42V97.04M500.18 95.42h5M500.18 97.04h5M509.08 91.56V93.16M506.58 91.56h5M506.58 93.16h5M515.49 85.6V92.9M512.99 85.6h5M512.99 92.9h5M521.89 83.46V89.88M519.39 83.46h5M519.39 89.88h5M528.3 81.38V88.98M525.8 81.38h5M525.8 88.98h5M534.7 80.3V88.1M532.2 80.3h5M532.2 88.1h5M541.11 79.6V87.6M538.61 79.6h5M538.61 87.6h5M547.51 79.56V87.64M545.01 79.56h5M545.01 87.64h5M553.92 79.2V91.2M551.42 79.2h5M551.42 91.2h5M560.32 77.8V89.2M557.82 77.8h5M557.82 89.2h5M566.73 77.45V89.55M564.23 77.45h5M564.23 89.55h5M573.13 78.6V91.4M570.63 78.6h5M570.63 91.4h5M579.54 78.59V90.64M577.04 78.59h5M577.04 90.64h5M585.94 78.3V90.11M583.44 78.3h5M583.44 90.11h5M592.35 79.47V91.08M589.85 79.47h5M589.85 91.08h5M598.75 80.49V91.89M596.25 80.49h5M596.25 91.89h5M605.16 82.19V93.39M602.66 82.19h5M602.66 93.39h5M611.56 83.98V95.18M609.06 83.98h5M609.06 95.18h5M617.97 86.88V98.08M615.47 86.88h5M615.47 98.08h5M624.37 89.98V101.96M621.87 89.98h5M621.87 101.96h5M630.78 93.62V106.21M628.28 93.62h5M628.28 106.21h5M637.18 99.18V111.19M634.68 99.18h5M634.68 111.19h5M643.59 108.18V117.39M641.09 108.18h5M641.09 117.39h5M649.99 120.49V122.5M647.49 120.49h5M647.49 122.5h5" stroke="#2b2b2b" stroke-width="0.65" fill="none" opacity="0.9"/>
<path d="M397.5 236.8 L398.5 231.06 L399.5 223.85 L400.5 216.33 L401.5 209.92 L402.5 204.1 L403.5 198.96 L404.5 194.27 L405.5 189.15 L406.5 183.46 L407.5 177.98 L408.5 172.94 L409.5 168.27 L410.5 164.03 L411.5 160.16 L412.5 156.83 L413.5 153.89 L414.5 151.49 L415.5 149.56 L416.5 147.89 L417.5 146.38 L418.5 144.96 L419.5 143.65 L420.5 142.42 L421.5 141.21 L422.5 139.98 L423.5 138.75 L424.5 137.54 L425.5 136.33 L426.5 135.12 L427.5 133.92 L428.5 132.73 L429.5 131.56 L430.5 130.44 L431.5 129.37 L432.5 128.36 L433.5 127.39 L434.5 126.44 L435.5 125.48 L436.5 124.51 L437.5 123.5 L438.5 122.41 L439.5 121.27 L440.5 120.11 L441.5 118.95 L442.5 117.82 L443.5 116.75 L444.5 115.77 L445.5 114.89 L446.5 114.03 L447.5 113.21 L448.5 112.44 L449.5 111.74 L450.5 111.13 L451.5 110.6 L452.5 110.12 L453.5 109.68 L454.5 109.28 L455.5 108.91 L456.5 108.59 L457.5 108.3 L458.5 108.02 L459.5 107.75 L460.5 107.48 L461.5 107.26 L462.5 107.1 L463.5 107.01 L464.5 107.01 L465.5 107.05 L466.5 107.11 L467.5 107.2 L468.5 107.31 L469.5 107.42 L470.5 107.54 L471.5 107.72 L472.5 107.96 L473.5 108.21 L474.5 108.45 L475.5 108.62 L476.5 108.7 L477.5 108.69 L478.5 108.66 L479.5 108.6 L480.5 108.53 L481.5 108.44 L482.5 108.34 L483.5 108.2 L484.5 107.91 L485.5 107.5 L486.5 107.02 L487.5 106.51 L488.5 106.03 L489.5 105.61 L490.5 105.28 L491.5 104.99 L492.5 104.72 L493.5 104.46 L494.5 104.19 L495.5 103.9 L496.5 103.56 L497.5 103.14 L498.5 102.65 L499.5 102.11 L500.5 101.58 L501.5 101.11 L502.5 100.72 L503.5 100.45 L504.5 100.24 L505.5 100.06 L506.5 99.89 L507.5 99.73 L508.5 99.55 L509.5 99.33 L510.5 99.09 L511.5 98.84 L512.5 98.57 L513.5 98.28 L514.5 97.97 L515.5 97.63 L516.5 97.18 L517.5 96.62 L518.5 96.19 L519.5 96.13 L520.5 96.41 L521.5 96.73 L522.5 96.92 L523.5 97.06 L524.5 97.19 L525.5 97.31 L526.5 97.41 L527.5 97.52 L528.5 97.63 L529.5 97.73 L530.5 97.82 L531.5 97.91 L532.5 98.01 L533.5 98.13 L534.5 98.27 L535.5 98.48 L536.5 98.83 L537.5 99.25 L538.5 99.7 L539.5 100.12 L540.5 100.46 L541.5 100.67 L542.5 100.82 L543.5 100.94 L544.5 101.05 L545.5 101.15 L546.5 101.27 L547.5 101.42 L548.5 101.57 L549.5 101.74 L550.5 101.98 L551.5 102.44 L552.5 103.38 L553.5 104.23 L554.5 104.53 L555.5 104.69 L556.5 104.8 L557.5 104.89 L558.5 104.98 L559.5 105.09 L560.5 105.23 L561.5 105.42 L562.5 105.63 L563.5 105.86 L564.5 106.11 L565.5 106.37 L566.5 106.62 L567.5 106.88 L568.5 107.16 L569.5 107.45 L570.5 107.74 L571.5 108.03 L572.5 108.31 L573.5 108.58 L574.5 108.84 L575.5 109.1 L576.5 109.35 L577.5 109.59 L578.5 109.82 L579.5 110.04 L580.5 110.24 L581.5 110.42 L582.5 110.6 L583.5 110.76 L584.5 110.93 L585.5 111.1 L586.5 111.27 L587.5 111.43 L588.5 111.6 L589.5 111.76 L590.5 111.93 L591.5 112.1 L592.5 112.3 L593.5 112.52 L594.5 112.75 L595.5 113 L596.5 113.27 L597.5 113.54 L598.5 113.82 L599.5 114.09 L600.5 114.37 L601.5 114.66 L602.5 114.96 L603.5 115.28 L604.5 115.63 L605.5 116.02 L606.5 116.47 L607.5 116.96 L608.5 117.5 L609.5 118.09 L610.5 118.7 L611.5 119.34 L612.5 120.01 L613.5 120.75 L614.5 121.55 L615.5 122.39 L616.5 123.25 L617.5 124.11 L618.5 124.95 L619.5 125.78 L620.5 126.61 L621.5 127.46 L622.5 128.32 L623.5 129.2 L624.5 130.11 L625.5 131.05 L626.5 132.03 L627.5 133.04 L628.5 134.07 L629.5 135.12 L630.5 136.18 L631.5 137.24 L632.5 138.31 L633.5 139.39 L634.5 140.49 L635.5 141.62 L636.5 142.76 L637.5 143.94 L638.5 145.14 L639.5 146.36 L640.5 147.62 L641.5 148.9 L642.5 150.22 L643.5 151.56 L644.5 152.98 L645.5 154.48 L646.5 156.03 L647.5 157.58 L648.5 159.09 L649.5 160.53 L650.5 161.84 L651.5 163.05 L652.5 164.22 L652.9 164.7" stroke="#cf2460" stroke-width="1.8" fill="none" stroke-linejoin="round"/>
<path d="M398.2 231.19V234.48M395.7 231.19h5M395.7 234.48h5M405 185.77V198.15M402.5 185.77h5M402.5 198.15h5M412.51 144.19V173.41M410.01 144.19h5M410.01 173.41h5M419.41 124.36V167.73M416.91 124.36h5M416.91 167.73h5M425.82 115.29V162.16M423.32 115.29h5M423.32 162.16h5M432.22 109.94V150.24M429.72 109.94h5M429.72 150.24h5M438.63 102.71V141.94M436.13 102.71h5M436.13 141.94h5M445.03 95.69V134.89M442.53 95.69h5M442.53 134.89h5M451.44 87.73V133.52M448.94 87.73h5M448.94 133.52h5M457.84 87.27V129.14M455.34 87.27h5M455.34 129.14h5M464.25 87.41V126.59M461.75 87.41h5M461.75 126.59h5M470.65 91.67V123.45M468.15 91.67h5M468.15 123.45h5M477.06 94.27V123.12M474.56 94.27h5M474.56 123.12h5M483.46 95V121.42M480.96 95h5M480.96 121.42h5M489.87 95.49V115.46M487.37 95.49h5M487.37 115.46h5M496.27 94.82V112.47M493.77 94.82h5M493.77 112.47h5M502.68 92.64V108.69M500.18 92.64h5M500.18 108.69h5M509.08 91.43V107.43M506.58 91.43h5M506.58 107.43h5M515.49 89.64V105.64M512.99 89.64h5M512.99 105.64h5M521.89 88.34V105.29M519.39 88.34h5M519.39 105.29h5M528.3 90.61V104.61M525.8 90.61h5M525.8 104.61h5M534.7 91.3V105.3M532.2 91.3h5M532.2 105.3h5M541.11 96.1V105.1M538.61 96.1h5M538.61 105.1h5M547.51 96.45V106.38M545.01 96.45h5M545.01 106.38h5M553.92 101.4V107.41M551.42 101.4h5M551.42 107.41h5M560.32 101.71V108.7M557.82 101.71h5M557.82 108.7h5M566.73 105.16V108.2M564.23 105.16h5M564.23 108.2h5M573.13 107.03V109.93M570.63 107.03h5M570.63 109.93h5M579.54 108.65V111.45M577.04 108.65h5M577.04 111.45h5M585.94 109.82V112.52M583.44 109.82h5M583.44 112.52h5M592.35 110.97V113.57M589.85 110.97h5M589.85 113.57h5M598.75 111.3V116.48M596.25 111.3h5M596.25 116.48h5M605.16 113.58V118.19M602.66 113.58h5M602.66 118.19h5M611.56 117.37V121.4M609.06 117.37h5M609.06 121.4h5M617.97 121.54V127.47M615.47 121.54h5M615.47 127.47h5M624.37 126.94V133.04M621.87 126.94h5M621.87 133.04h5M630.78 133.37V139.57M628.28 133.37h5M628.28 139.57h5M637.18 140.41V146.71M634.68 140.41h5M634.68 146.71h5M643.59 148.49V154.89M641.09 148.49h5M641.09 154.89h5M649.99 159.19V163.19M647.49 159.19h5M647.49 163.19h5" stroke="#2b2b2b" stroke-width="0.65" fill="none" opacity="0.9"/>
<path d="M397.5 234.5 L398.5 229.72 L399.5 222.79 L400.5 215.13 L401.5 208.72 L402.5 202.9 L403.5 197.67 L404.5 192.9 L405.5 188.25 L406.5 183.74 L407.5 179.24 L408.5 174.59 L409.5 170.06 L410.5 165.85 L411.5 161.9 L412.5 158.51 L413.5 155.48 L414.5 152.84 L415.5 150.66 L416.5 148.8 L417.5 147.14 L418.5 145.6 L419.5 144.11 L420.5 142.73 L421.5 141.42 L422.5 140.13 L423.5 138.82 L424.5 137.55 L425.5 136.32 L426.5 135.11 L427.5 133.92 L428.5 132.75 L429.5 131.59 L430.5 130.46 L431.5 129.35 L432.5 128.27 L433.5 127.21 L434.5 126.17 L435.5 125.13 L436.5 124.07 L437.5 122.99 L438.5 121.9 L439.5 120.82 L440.5 119.73 L441.5 118.62 L442.5 117.49 L443.5 116.31 L444.5 115.08 L445.5 113.81 L446.5 112.52 L447.5 111.13 L448.5 109.57 L449.5 107.49 L450.5 104.63 L451.5 103.94 L452.5 104.31 L453.5 104.74 L454.5 104.89 L455.5 104.62 L456.5 104.2 L457.5 103.9 L458.5 103.77 L459.5 103.66 L460.5 103.56 L461.5 103.48 L462.5 103.43 L463.5 103.4 L464.5 103.44 L465.5 103.63 L466.5 103.94 L467.5 104.29 L468.5 104.65 L469.5 105.13 L470.5 105.7 L471.5 106.27 L472.5 106.74 L473.5 107.02 L474.5 107.19 L475.5 107.35 L476.5 107.49 L477.5 107.6 L478.5 107.67 L479.5 107.7 L480.5 107.63 L481.5 107.37 L482.5 106.95 L483.5 106.43 L484.5 105.85 L485.5 105.25 L486.5 104.65 L487.5 103.88 L488.5 103.04 L489.5 102.29 L490.5 101.7 L491.5 101.17 L492.5 100.68 L493.5 100.23 L494.5 99.81 L495.5 99.42 L496.5 99.07 L497.5 98.72 L498.5 98.38 L499.5 98.07 L500.5 97.78 L501.5 97.54 L502.5 97.36 L503.5 97.23 L504.5 97.13 L505.5 97.05 L506.5 96.98 L507.5 96.91 L508.5 96.85 L509.5 96.78 L510.5 96.72 L511.5 96.68 L512.5 96.64 L513.5 96.58 L514.5 96.51 L515.5 96.41 L516.5 96.07 L517.5 95.51 L518.5 95.32 L519.5 95.91 L520.5 96.9 L521.5 97.75 L522.5 98.14 L523.5 98.42 L524.5 98.64 L525.5 98.83 L526.5 99.02 L527.5 99.23 L528.5 99.48 L529.5 99.8 L530.5 100.14 L531.5 100.5 L532.5 100.84 L533.5 101.14 L534.5 101.37 L535.5 101.52 L536.5 101.63 L537.5 101.72 L538.5 101.81 L539.5 101.9 L540.5 102.02 L541.5 102.16 L542.5 102.33 L543.5 102.53 L544.5 102.76 L545.5 103.01 L546.5 103.31 L547.5 103.64 L548.5 104.07 L549.5 104.62 L550.5 105.24 L551.5 105.97 L552.5 106.93 L553.5 107.73 L554.5 108.05 L555.5 108.24 L556.5 108.37 L557.5 108.48 L558.5 108.59 L559.5 108.73 L560.5 108.95 L561.5 109.31 L562.5 109.81 L563.5 110.4 L564.5 111.03 L565.5 111.66 L566.5 112.24 L567.5 112.75 L568.5 113.24 L569.5 113.71 L570.5 114.18 L571.5 114.66 L572.5 115.15 L573.5 115.65 L574.5 116.16 L575.5 116.68 L576.5 117.2 L577.5 117.74 L578.5 118.31 L579.5 118.91 L580.5 119.56 L581.5 120.25 L582.5 120.98 L583.5 121.75 L584.5 122.56 L585.5 123.39 L586.5 124.26 L587.5 125.27 L588.5 126.39 L589.5 127.52 L590.5 128.59 L591.5 129.51 L592.5 130.2 L593.5 130.68 L594.5 131.07 L595.5 131.4 L596.5 131.71 L597.5 132.05 L598.5 132.46 L599.5 132.97 L600.5 133.59 L601.5 134.29 L602.5 135.04 L603.5 135.81 L604.5 136.58 L605.5 137.32 L606.5 138.05 L607.5 138.79 L608.5 139.54 L609.5 140.3 L610.5 141.08 L611.5 141.88 L612.5 142.69 L613.5 143.54 L614.5 144.42 L615.5 145.3 L616.5 146.2 L617.5 147.08 L618.5 147.96 L619.5 148.83 L620.5 149.69 L621.5 150.56 L622.5 151.43 L623.5 152.31 L624.5 153.21 L625.5 154.13 L626.5 155.05 L627.5 156 L628.5 156.95 L629.5 157.92 L630.5 158.9 L631.5 159.9 L632.5 160.93 L633.5 161.97 L634.5 163.03 L635.5 164.09 L636.5 165.15 L637.5 166.21 L638.5 167.24 L639.5 168.26 L640.5 169.28 L641.5 170.33 L642.5 171.42 L643.5 172.58 L644.5 173.82 L645.5 175.16 L646.5 176.55 L647.5 177.98 L648.5 179.44 L649.5 180.88 L650.5 182.32 L651.5 183.76 L652.5 185.22 L652.9 185.8" stroke="#2d9a5c" stroke-width="1.8" fill="none" stroke-linejoin="round"/>
<path d="M398.2 229.58V232.86M395.7 229.58h5M395.7 232.86h5M405 184.53V196.91M402.5 184.53h5M402.5 196.91h5M412.51 143.96V177M410.01 143.96h5M410.01 177h5M419.41 121.4V171.64M416.91 121.4h5M416.91 171.64h5M425.82 112.25V165.16M423.32 112.25h5M423.32 165.16h5M432.22 104.48V155.57M429.72 104.48h5M429.72 155.57h5M438.63 94.4V149.24M436.13 94.4h5M436.13 149.24h5M445.03 89.3V139.5M442.53 89.3h5M442.53 139.5h5M451.44 82.22V125.65M448.94 82.22h5M448.94 125.65h5M457.84 81.95V125.76M455.34 81.95h5M455.34 125.76h5M464.25 83.36V123.46M461.75 83.36h5M461.75 123.46h5M470.65 88.51V123.08M468.15 88.51h5M468.15 123.08h5M477.06 93.12V121.98M474.56 93.12h5M474.56 121.98h5M483.46 92.66V120.24M480.96 92.66h5M480.96 120.24h5M489.87 85.06V119.06M487.37 85.06h5M487.37 119.06h5M496.27 82.14V116.14M493.77 82.14h5M493.77 116.14h5M502.68 84.19V110.46M500.18 84.19h5M500.18 110.46h5M509.08 86.16V107.45M506.58 86.16h5M506.58 107.45h5M515.49 87.39V105.44M512.99 87.39h5M512.99 105.44h5M521.89 89.46V106.41M519.39 89.46h5M519.39 106.41h5M528.3 92.43V106.43M525.8 92.43h5M525.8 106.43h5M534.7 94.4V108.4M532.2 94.4h5M532.2 108.4h5M541.11 97.6V106.6M538.61 97.6h5M538.61 106.6h5M547.51 98.68V108.61M545.01 98.68h5M545.01 108.61h5M553.92 104.9V110.91M551.42 104.9h5M551.42 110.91h5M560.32 105.41V112.4M557.82 105.41h5M557.82 112.4h5M566.73 109.36V115.37M564.23 109.36h5M564.23 115.37h5M573.13 112.27V118.66M570.63 112.27h5M570.63 118.66h5M579.54 116.5V121.37M577.04 116.5h5M577.04 121.37h5M585.94 121.17V126.36M583.44 121.17h5M583.44 126.36h5M592.35 127.32V132.91M589.85 127.32h5M589.85 132.91h5M598.75 129.68V135.48M596.25 129.68h5M596.25 135.48h5M605.16 134.07V140.07M602.66 134.07h5M602.66 140.07h5M611.56 137.5V146.35M609.06 137.5h5M609.06 146.35h5M617.97 145.02V149.98M615.47 145.02h5M615.47 149.98h5M624.37 151.08V155.11M621.87 151.08h5M621.87 155.11h5M630.78 157.57V160.79M628.28 157.57h5M628.28 160.79h5M637.18 163.49V168.26M634.68 163.49h5M634.68 168.26h5M643.59 169.49V175.89M641.09 169.49h5M641.09 175.89h5M649.99 178.39V184.79M647.49 178.39h5M647.49 184.79h5" stroke="#2b2b2b" stroke-width="0.65" fill="none" opacity="0.9"/>
<text x="392.3" y="272.1" text-anchor="end" class="tk">0</text>
<text x="392.3" y="220.68" text-anchor="end" class="tk">0.04</text>
<text x="392.3" y="169.26" text-anchor="end" class="tk">0.08</text>
<text x="392.3" y="117.84" text-anchor="end" class="tk">0.12</text>
<text x="392.3" y="66.42" text-anchor="end" class="tk">0.16</text>
<text x="392.3" y="15" text-anchor="end" class="tk">0.2</text>
<text x="389.9" y="282.65" class="tk">10<tspan dy="-4.7" class="sup">-8</tspan></text>
<text x="448.2" y="282.65" class="tk">10<tspan dy="-4.7" class="sup">-6</tspan></text>
<text x="525.3" y="285.55" class="tk" text-anchor="middle">0.0001</text>
<text x="588.9" y="285.55" class="tk" text-anchor="middle">0.01</text>
<text x="653.3" y="285.55" class="tk" text-anchor="middle">1</text>
<text x="456.5" y="303" class="ti" textLength="136.4" lengthAdjust="spacingAndGlyphs">sliding velocity [m/s]</text>
<text transform="translate(356.2 220.3) rotate(-90)" class="ty" style="font-size:16.7px" textLength="151" lengthAdjust="spacingAndGlyphs">friction coefficient [-]</text>
<text x="400.5" y="27.4" class="tag" textLength="17.3" lengthAdjust="spacingAndGlyphs">(b)</text>
<text x="411.35" y="246.4" class="tk2">75°C</text>
<path d="M570.6 201.9h10" stroke="#2f66a6" stroke-width="1.6"/>
<text x="583.8" y="206.7" class="lg">base oil</text>
<path d="M570.6 221.5h10" stroke="#cf2460" stroke-width="1.6"/>
<text x="583.8" y="226.3" class="lg">0.5%</text>
<path d="M570.6 241.1h10" stroke="#2d9a5c" stroke-width="1.6"/>
<text x="583.8" y="245.9" class="lg">1%</text>
</g>
<g>
<rect x="54.6" y="319.3" width="255.5" height="255.7" fill="none" stroke="#111111" stroke-width="1.5"/>
<path d="M64.21 575v-4.8M64.21 319.3v4.8M69.84 575v-4.8M69.84 319.3v4.8M73.83 575v-4.8M73.83 319.3v4.8M76.92 575v-4.8M76.92 319.3v4.8M79.45 575v-4.8M79.45 319.3v4.8M81.59 575v-4.8M81.59 319.3v4.8M83.44 575v-4.8M83.44 319.3v4.8M85.08 575v-4.8M85.08 319.3v4.8M86.54 575v-9M86.54 319.3v9M96.15 575v-4.8M96.15 319.3v4.8M101.78 575v-4.8M101.78 319.3v4.8M105.77 575v-4.8M105.77 319.3v4.8M108.86 575v-4.8M108.86 319.3v4.8M111.39 575v-4.8M111.39 319.3v4.8M113.53 575v-4.8M113.53 319.3v4.8M115.38 575v-4.8M115.38 319.3v4.8M117.01 575v-4.8M117.01 319.3v4.8M118.48 575v-9M118.48 319.3v9M128.09 575v-4.8M128.09 319.3v4.8M133.71 575v-4.8M133.71 319.3v4.8M137.7 575v-4.8M137.7 319.3v4.8M140.8 575v-4.8M140.8 319.3v4.8M143.33 575v-4.8M143.33 319.3v4.8M145.47 575v-4.8M145.47 319.3v4.8M147.32 575v-4.8M147.32 319.3v4.8M148.95 575v-4.8M148.95 319.3v4.8M150.41 575v-9M150.41 319.3v9M160.03 575v-4.8M160.03 319.3v4.8M165.65 575v-4.8M165.65 319.3v4.8M169.64 575v-4.8M169.64 319.3v4.8M172.74 575v-4.8M172.74 319.3v4.8M175.26 575v-4.8M175.26 319.3v4.8M177.4 575v-4.8M177.4 319.3v4.8M179.25 575v-4.8M179.25 319.3v4.8M180.89 575v-4.8M180.89 319.3v4.8M182.35 575v-9M182.35 319.3v9M191.96 575v-4.8M191.96 319.3v4.8M197.59 575v-4.8M197.59 319.3v4.8M201.58 575v-4.8M201.58 319.3v4.8M204.67 575v-4.8M204.67 319.3v4.8M207.2 575v-4.8M207.2 319.3v4.8M209.34 575v-4.8M209.34 319.3v4.8M211.19 575v-4.8M211.19 319.3v4.8M212.83 575v-4.8M212.83 319.3v4.8M214.29 575v-9M214.29 319.3v9M223.9 575v-4.8M223.9 319.3v4.8M229.53 575v-4.8M229.53 319.3v4.8M233.52 575v-4.8M233.52 319.3v4.8M236.61 575v-4.8M236.61 319.3v4.8M239.14 575v-4.8M239.14 319.3v4.8M241.28 575v-4.8M241.28 319.3v4.8M243.13 575v-4.8M243.13 319.3v4.8M244.76 575v-4.8M244.76 319.3v4.8M246.23 575v-9M246.23 319.3v9M255.84 575v-4.8M255.84 319.3v4.8M261.46 575v-4.8M261.46 319.3v4.8M265.45 575v-4.8M265.45 319.3v4.8M268.55 575v-4.8M268.55 319.3v4.8M271.08 575v-4.8M271.08 319.3v4.8M273.22 575v-4.8M273.22 319.3v4.8M275.07 575v-4.8M275.07 319.3v4.8M276.7 575v-4.8M276.7 319.3v4.8M278.16 575v-9M278.16 319.3v9M287.78 575v-4.8M287.78 319.3v4.8M293.4 575v-4.8M293.4 319.3v4.8M297.39 575v-4.8M297.39 319.3v4.8M300.49 575v-4.8M300.49 319.3v4.8M303.01 575v-4.8M303.01 319.3v4.8M305.15 575v-4.8M305.15 319.3v4.8M307 575v-4.8M307 319.3v4.8M308.64 575v-4.8M308.64 319.3v4.8M54.6 549.43h4.8M310.1 549.43h-4.8M54.6 523.86h9M310.1 523.86h-9M54.6 498.29h4.8M310.1 498.29h-4.8M54.6 472.72h9M310.1 472.72h-9M54.6 447.15h4.8M310.1 447.15h-4.8M54.6 421.58h9M310.1 421.58h-9M54.6 396.01h4.8M310.1 396.01h-4.8M54.6 370.44h9M310.1 370.44h-9M54.6 344.87h4.8M310.1 344.87h-4.8" stroke="#111111" stroke-width="1.35" fill="none"/>
<path d="M54.4 544.1 L55.4 539.02 L56.4 534.01 L57.4 528.83 L58.4 523.21 L59.4 516.88 L60.4 510.04 L61.4 503.1 L62.4 496.41 L63.4 489.63 L64.4 482.93 L65.4 476.75 L66.4 471.56 L67.4 467.09 L68.4 462.38 L69.4 458.49 L70.4 456.11 L71.4 454.3 L72.4 452.5 L73.4 450.49 L74.4 448.45 L75.4 446.44 L76.4 444.53 L77.4 442.72 L78.4 440.97 L79.4 439.24 L80.4 437.5 L81.4 435.77 L82.4 434.04 L83.4 432.34 L84.4 430.66 L85.4 428.96 L86.4 427.28 L87.4 425.66 L88.4 424.18 L89.4 422.83 L90.4 421.56 L91.4 420.37 L92.4 419.25 L93.4 418.2 L94.4 417.18 L95.4 416.2 L96.4 415.29 L97.4 414.47 L98.4 413.77 L99.4 413.15 L100.4 412.59 L101.4 412.1 L102.4 411.68 L103.4 411.33 L104.4 411 L105.4 410.71 L106.4 410.47 L107.4 410.32 L108.4 410.26 L109.4 410.2 L110.4 410.16 L111.4 410.13 L112.4 410.11 L113.4 410.1 L114.4 410.1 L115.4 410.12 L116.4 410.13 L117.4 410.15 L118.4 410.17 L119.4 410.18 L120.4 410.19 L121.4 410.2 L122.4 410.19 L123.4 410.18 L124.4 410.15 L125.4 410.11 L126.4 410.07 L127.4 410.02 L128.4 409.96 L129.4 409.88 L130.4 409.78 L131.4 409.65 L132.4 409.51 L133.4 409.37 L134.4 409.23 L135.4 409.08 L136.4 408.91 L137.4 408.73 L138.4 408.55 L139.4 408.36 L140.4 408.19 L141.4 408.04 L142.4 407.91 L143.4 407.78 L144.4 407.66 L145.4 407.54 L146.4 407.4 L147.4 407.25 L148.4 407.09 L149.4 406.92 L150.4 406.74 L151.4 406.55 L152.4 406.35 L153.4 406.14 L154.4 405.9 L155.4 405.59 L156.4 405.26 L157.4 404.94 L158.4 404.69 L159.4 404.53 L160.4 404.5 L161.4 404.5 L162.4 404.5 L163.4 404.5 L164.4 404.5 L165.4 404.5 L166.4 404.5 L167.4 404.46 L168.4 404.38 L169.4 404.26 L170.4 404.12 L171.4 403.97 L172.4 403.83 L173.4 403.68 L174.4 403.48 L175.4 403.28 L176.4 403.07 L177.4 402.88 L178.4 402.75 L179.4 402.66 L180.4 402.6 L181.4 402.53 L182.4 402.48 L183.4 402.44 L184.4 402.41 L185.4 402.4 L186.4 402.41 L187.4 402.45 L188.4 402.5 L189.4 402.56 L190.4 402.62 L191.4 402.68 L192.4 402.73 L193.4 402.79 L194.4 402.86 L195.4 402.92 L196.4 402.97 L197.4 402.99 L198.4 403 L199.4 402.96 L200.4 402.91 L201.4 402.84 L202.4 402.77 L203.4 402.72 L204.4 402.7 L205.4 402.9 L206.4 403.34 L207.4 403.8 L208.4 404.25 L209.4 404.73 L210.4 405.15 L211.4 405.42 L212.4 405.62 L213.4 405.79 L214.4 405.94 L215.4 406.08 L216.4 406.24 L217.4 406.42 L218.4 406.67 L219.4 406.98 L220.4 407.29 L221.4 407.58 L222.4 407.79 L223.4 407.9 L224.4 407.89 L225.4 407.85 L226.4 407.79 L227.4 407.73 L228.4 407.67 L229.4 407.62 L230.4 407.6 L231.4 407.62 L232.4 407.68 L233.4 407.77 L234.4 407.88 L235.4 408.01 L236.4 408.16 L237.4 408.32 L238.4 408.56 L239.4 408.85 L240.4 409.18 L241.4 409.52 L242.4 409.85 L243.4 410.15 L244.4 410.44 L245.4 410.73 L246.4 411.03 L247.4 411.34 L248.4 411.66 L249.4 412.01 L250.4 412.37 L251.4 412.75 L252.4 413.15 L253.4 413.57 L254.4 413.99 L255.4 414.43 L256.4 414.88 L257.4 415.35 L258.4 415.85 L259.4 416.35 L260.4 416.87 L261.4 417.39 L262.4 417.9 L263.4 418.41 L264.4 418.92 L265.4 419.43 L266.4 419.95 L267.4 420.49 L268.4 421.06 L269.4 421.64 L270.4 422.25 L271.4 422.87 L272.4 423.51 L273.4 424.17 L274.4 424.85 L275.4 425.54 L276.4 426.25 L277.4 426.99 L278.4 427.74 L279.4 428.53 L280.4 429.35 L281.4 430.2 L282.4 431.09 L283.4 432 L284.4 432.96 L285.4 433.97 L286.4 435.03 L287.4 436.16 L288.4 437.39 L289.4 438.72 L290.4 440.14 L291.4 441.63 L292.4 443.18 L293.4 444.76 L294.4 446.37 L295.4 448.07 L296.4 449.82 L297.4 451.63 L298.4 453.46 L299.4 455.3 L300.4 457.14 L301.4 459.01 L302.4 460.91 L303.4 462.82 L304.4 464.73 L305.4 466.62 L306.4 468.47 L307.4 470.27 L308.4 472.05 L309.4 473.83 L310 474.9" stroke="#2f66a6" stroke-width="1.8" fill="none" stroke-linejoin="round"/>
<path d="M55.7 535.43V539.61M53.2 535.43h5M53.2 539.61h5M62.49 488.32V503.33M59.99 488.32h5M59.99 503.33h5M69.98 451.96V462.06M67.48 451.96h5M67.48 462.06h5M76.86 434.77V452.59M74.36 434.77h5M74.36 452.59h5M83.25 424.57V440.62M80.75 424.57h5M80.75 440.62h5M89.64 415.5V429.55M87.14 415.5h5M87.14 429.55h5M96.03 410.57V420.68M93.53 410.57h5M93.53 420.68h5M102.41 408.62V414.73M99.91 408.62h5M99.91 414.73h5M108.8 407.72V412.75M106.3 407.72h5M106.3 412.75h5M115.19 407.57V412.66M112.69 407.57h5M112.69 412.66h5M121.58 407.61V412.79M119.08 407.61h5M119.08 412.79h5M127.96 407.36V412.63M125.46 407.36h5M125.46 412.63h5M134.35 406.56V411.91M131.85 406.56h5M131.85 411.91h5M140.74 405.42V410.86M138.24 405.42h5M138.24 410.86h5M147.12 404.53V410.06M144.62 404.53h5M144.62 410.06h5M153.51 403.31V408.93M151.01 403.31h5M151.01 408.93h5M159.9 401.64V407.36M157.4 401.64h5M157.4 407.36h5M166.29 401.6V407.4M163.79 401.6h5M163.79 407.4h5M172.67 400.84V406.74M170.17 400.84h5M170.17 406.74h5M179.06 399.69V405.68M176.56 399.69h5M176.56 405.68h5M185.45 400.4V404.4M182.95 400.4h5M182.95 404.4h5M191.84 400.7V404.7M189.34 400.7h5M189.34 404.7h5M198.22 401V405M195.72 401h5M195.72 405h5M204.61 400.71V404.71M202.11 400.71h5M202.11 404.71h5M211 403.33V407.33M208.5 403.33h5M208.5 407.33h5M217.39 404.38V408.45M214.89 404.38h5M214.89 408.45h5M223.77 405.35V410.45M221.27 405.35h5M221.27 410.45h5M230.16 406.9V408.3M227.66 406.9h5M227.66 408.3h5M236.55 407.48V408.88M234.05 407.48h5M234.05 408.88h5M242.94 409.31V410.71M240.44 409.31h5M240.44 410.71h5M249.32 411.28V412.68M246.82 411.28h5M246.82 412.68h5M255.71 413.87V415.27M253.21 413.87h5M253.21 415.27h5M262.1 417.05V418.45M259.6 417.05h5M259.6 418.45h5M268.49 420.41V421.81M265.99 420.41h5M265.99 421.81h5M274.87 424.47V425.87M272.37 424.47h5M272.37 425.87h5M281.26 429.38V430.78M278.76 429.38h5M278.76 430.78h5M287.65 435.76V437.16M285.15 435.76h5M285.15 437.16h5M294.04 445.08V446.48M291.54 445.08h5M291.54 446.48h5M300.42 456.48V457.88M297.92 456.48h5M297.92 457.88h5M306.81 468.51V469.91M304.31 468.51h5M304.31 469.91h5" stroke="#2b2b2b" stroke-width="0.65" fill="none" opacity="0.9"/>
<path d="M54.4 544.1 L55.4 539.02 L56.4 534.01 L57.4 528.83 L58.4 523.21 L59.4 516.88 L60.4 510.04 L61.4 503.1 L62.4 496.41 L63.4 489.63 L64.4 482.93 L65.4 476.75 L66.4 471.6 L67.4 467.02 L68.4 461.77 L69.4 456.91 L70.4 453.11 L71.4 449.81 L72.4 446.8 L73.4 444.03 L74.4 441.48 L75.4 438.94 L76.4 436.33 L77.4 433.72 L78.4 431.23 L79.4 428.94 L80.4 426.84 L81.4 424.86 L82.4 422.95 L83.4 421.05 L84.4 419.17 L85.4 417.33 L86.4 415.56 L87.4 413.88 L88.4 412.3 L89.4 410.79 L90.4 409.34 L91.4 407.98 L92.4 406.7 L93.4 405.51 L94.4 404.39 L95.4 403.32 L96.4 402.29 L97.4 401.29 L98.4 400.3 L99.4 399.31 L100.4 398.33 L101.4 397.41 L102.4 396.57 L103.4 395.85 L104.4 395.18 L105.4 394.56 L106.4 394 L107.4 393.53 L108.4 393.11 L109.4 392.68 L110.4 392.3 L111.4 392.02 L112.4 391.9 L113.4 391.9 L114.4 391.9 L115.4 391.9 L116.4 391.9 L117.4 391.9 L118.4 392.03 L119.4 392.27 L120.4 392.48 L121.4 392.69 L122.4 392.9 L123.4 393.12 L124.4 393.34 L125.4 393.56 L126.4 393.79 L127.4 394.05 L128.4 394.33 L129.4 394.6 L130.4 394.85 L131.4 395.04 L132.4 395.17 L133.4 395.2 L134.4 395.13 L135.4 394.98 L136.4 394.78 L137.4 394.57 L138.4 394.31 L139.4 393.94 L140.4 393.49 L141.4 393.02 L142.4 392.58 L143.4 392.21 L144.4 391.95 L145.4 391.73 L146.4 391.52 L147.4 391.34 L148.4 391.17 L149.4 391 L150.4 390.85 L151.4 390.7 L152.4 390.55 L153.4 390.4 L154.4 390.26 L155.4 390.15 L156.4 390.07 L157.4 390 L158.4 389.94 L159.4 389.91 L160.4 389.93 L161.4 390.19 L162.4 390.68 L163.4 391.32 L164.4 392.02 L165.4 392.71 L166.4 393.31 L167.4 393.87 L168.4 394.42 L169.4 394.99 L170.4 395.58 L171.4 396.2 L172.4 396.86 L173.4 397.6 L174.4 398.43 L175.4 399.32 L176.4 400.22 L177.4 401.11 L178.4 401.93 L179.4 402.65 L180.4 403.35 L181.4 404.01 L182.4 404.65 L183.4 405.25 L184.4 405.82 L185.4 406.35 L186.4 406.85 L187.4 407.33 L188.4 407.79 L189.4 408.23 L190.4 408.62 L191.4 408.97 L192.4 409.27 L193.4 409.52 L194.4 409.74 L195.4 409.95 L196.4 410.17 L197.4 410.42 L198.4 410.73 L199.4 411.13 L200.4 411.58 L201.4 412.08 L202.4 412.59 L203.4 413.11 L204.4 413.6 L205.4 414.07 L206.4 414.54 L207.4 415.01 L208.4 415.49 L209.4 415.97 L210.4 416.45 L211.4 416.95 L212.4 417.45 L213.4 417.97 L214.4 418.49 L215.4 419.01 L216.4 419.53 L217.4 420.05 L218.4 420.59 L219.4 421.14 L220.4 421.7 L221.4 422.24 L222.4 422.75 L223.4 423.21 L224.4 423.62 L225.4 423.98 L226.4 424.31 L227.4 424.63 L228.4 424.95 L229.4 425.29 L230.4 425.66 L231.4 426.07 L232.4 426.5 L233.4 426.96 L234.4 427.44 L235.4 427.93 L236.4 428.44 L237.4 428.98 L238.4 429.55 L239.4 430.14 L240.4 430.76 L241.4 431.38 L242.4 432 L243.4 432.6 L244.4 433.21 L245.4 433.82 L246.4 434.43 L247.4 435.04 L248.4 435.66 L249.4 436.29 L250.4 436.93 L251.4 437.57 L252.4 438.23 L253.4 438.87 L254.4 439.51 L255.4 440.14 L256.4 440.74 L257.4 441.32 L258.4 441.89 L259.4 442.45 L260.4 443 L261.4 443.55 L262.4 444.11 L263.4 444.67 L264.4 445.23 L265.4 445.78 L266.4 446.34 L267.4 446.9 L268.4 447.46 L269.4 448.01 L270.4 448.55 L271.4 449.1 L272.4 449.65 L273.4 450.22 L274.4 450.81 L275.4 451.43 L276.4 452.06 L277.4 452.72 L278.4 453.4 L279.4 454.12 L280.4 454.88 L281.4 455.7 L282.4 456.6 L283.4 457.59 L284.4 458.66 L285.4 459.77 L286.4 460.91 L287.4 462.07 L288.4 463.24 L289.4 464.45 L290.4 465.71 L291.4 466.99 L292.4 468.28 L293.4 469.58 L294.4 470.88 L295.4 472.21 L296.4 473.55 L297.4 474.9 L298.4 476.25 L299.4 477.6 L300.4 478.93 L301.4 480.26 L302.4 481.59 L303.4 482.92 L304.4 484.24 L305.4 485.55 L306.4 486.86 L307.4 488.16 L308.4 489.44 L309.4 490.73 L310 491.5" stroke="#cf2460" stroke-width="1.8" fill="none" stroke-linejoin="round"/>
<path d="M55.7 535.43V539.61M53.2 535.43h5M53.2 539.61h5M62.49 488.32V503.33M59.99 488.32h5M59.99 503.33h5M69.98 436.86V472.45M67.48 436.86h5M67.48 472.45h5M76.86 414.18V456.05M74.36 414.18h5M74.36 456.05h5M83.25 403.76V438.92M80.75 403.76h5M80.75 438.92h5M89.64 393.91V426.96M87.14 393.91h5M87.14 426.96h5M96.03 386.66V418.68M93.53 386.66h5M93.53 418.68h5M102.41 379.59V413.53M99.91 379.59h5M99.91 413.53h5M108.8 375.45V410.42M106.3 375.45h5M106.3 410.42h5M115.19 373.92V409.88M112.69 373.92h5M112.69 409.88h5M121.58 374.34V411.11M119.08 374.34h5M119.08 411.11h5M127.96 375.61V412.8M125.46 375.61h5M125.46 412.8h5M134.35 376.15V414.12M131.85 376.15h5M131.85 414.12h5M140.74 372.42V414.25M138.24 372.42h5M138.24 414.25h5M147.12 367.99V414.78M144.62 367.99h5M144.62 414.78h5M153.51 367.57V413.19M151.01 367.57h5M151.01 413.19h5M159.9 368.87V410.93M157.4 368.87h5M157.4 410.93h5M166.29 377.27V409.23M163.79 377.27h5M163.79 409.23h5M172.67 382.7V411.41M170.17 382.7h5M170.17 411.41h5M179.06 391.88V412.95M176.56 391.88h5M176.56 412.95h5M185.45 398.35V414.39M182.95 398.35h5M182.95 414.39h5M191.84 401.12V417.1M189.34 401.12h5M189.34 417.1h5M198.22 404.78V416.57M195.72 404.78h5M195.72 416.57h5M204.61 410.61V416.79M202.11 410.61h5M202.11 416.79h5M211 411.08V422.42M208.5 411.08h5M208.5 422.42h5M217.39 416.55V423.54M214.89 416.55h5M214.89 423.54h5M223.77 420.02V426.72M221.27 420.02h5M221.27 426.72h5M230.16 424.06V427.08M227.66 424.06h5M227.66 427.08h5M236.55 427.03V430.02M234.05 427.03h5M234.05 430.02h5M242.94 431.61V433.03M240.44 431.61h5M240.44 433.03h5M249.32 435.54V436.94M246.82 435.54h5M246.82 436.94h5M255.71 439.63V441.03M253.21 439.63h5M253.21 441.03h5M262.1 443.24V444.64M259.6 443.24h5M259.6 444.64h5M268.49 446.8V448.2M265.99 446.8h5M265.99 448.2h5M274.87 450.4V451.8M272.37 450.4h5M272.37 451.8h5M281.26 454.88V456.28M278.76 454.88h5M278.76 456.28h5M287.65 461.66V463.06M285.15 461.66h5M285.15 463.06h5M294.04 469.71V471.11M291.54 469.71h5M291.54 471.11h5M300.42 478.27V479.67M297.92 478.27h5M297.92 479.67h5M306.81 486.7V488.1M304.31 486.7h5M304.31 488.1h5" stroke="#2b2b2b" stroke-width="0.65" fill="none" opacity="0.9"/>
<path d="M54.4 544.1 L55.4 539.02 L56.4 534.01 L57.4 528.83 L58.4 523.21 L59.4 516.88 L60.4 510.04 L61.4 503.1 L62.4 496.41 L63.4 489.63 L64.4 482.93 L65.4 476.75 L66.4 471.6 L67.4 467.02 L68.4 461.78 L69.4 456.75 L70.4 452.47 L71.4 448.57 L72.4 444.9 L73.4 441.4 L74.4 438.1 L75.4 435 L76.4 432.02 L77.4 429.16 L78.4 426.5 L79.4 424.11 L80.4 421.95 L81.4 419.96 L82.4 418.1 L83.4 416.32 L84.4 414.62 L85.4 413 L86.4 411.46 L87.4 410.02 L88.4 408.65 L89.4 407.34 L90.4 406.1 L91.4 404.95 L92.4 403.9 L93.4 402.94 L94.4 402.04 L95.4 401.19 L96.4 400.4 L97.4 399.66 L98.4 398.96 L99.4 398.28 L100.4 397.62 L101.4 397.03 L102.4 396.57 L103.4 396.26 L104.4 395.98 L105.4 395.73 L106.4 395.52 L107.4 395.38 L108.4 395.3 L109.4 395.31 L110.4 395.37 L111.4 395.45 L112.4 395.57 L113.4 395.7 L114.4 395.9 L115.4 396.2 L116.4 396.56 L117.4 396.96 L118.4 397.44 L119.4 398.03 L120.4 398.64 L121.4 399.16 L122.4 399.57 L123.4 399.94 L124.4 400.29 L125.4 400.61 L126.4 400.91 L127.4 401.19 L128.4 401.46 L129.4 401.71 L130.4 401.96 L131.4 402.19 L132.4 402.4 L133.4 402.59 L134.4 402.77 L135.4 402.93 L136.4 403.1 L137.4 403.27 L138.4 403.41 L139.4 403.52 L140.4 403.59 L141.4 403.6 L142.4 403.56 L143.4 403.5 L144.4 403.42 L145.4 403.36 L146.4 403.31 L147.4 403.3 L148.4 403.33 L149.4 403.4 L150.4 403.48 L151.4 403.58 L152.4 403.68 L153.4 403.78 L154.4 403.87 L155.4 403.96 L156.4 404.06 L157.4 404.16 L158.4 404.28 L159.4 404.41 L160.4 404.56 L161.4 404.76 L162.4 404.98 L163.4 405.24 L164.4 405.53 L165.4 405.84 L166.4 406.17 L167.4 406.59 L168.4 407.1 L169.4 407.65 L170.4 408.19 L171.4 408.67 L172.4 409.04 L173.4 409.3 L174.4 409.52 L175.4 409.71 L176.4 409.88 L177.4 410.05 L178.4 410.21 L179.4 410.39 L180.4 410.55 L181.4 410.71 L182.4 410.87 L183.4 411.03 L184.4 411.2 L185.4 411.38 L186.4 411.6 L187.4 411.87 L188.4 412.15 L189.4 412.43 L190.4 412.67 L191.4 412.85 L192.4 412.96 L193.4 413.03 L194.4 413.09 L195.4 413.15 L196.4 413.2 L197.4 413.26 L198.4 413.33 L199.4 413.4 L200.4 413.48 L201.4 413.6 L202.4 413.93 L203.4 414.52 L204.4 415.2 L205.4 415.99 L206.4 416.94 L207.4 417.9 L208.4 418.91 L209.4 419.97 L210.4 420.87 L211.4 421.45 L212.4 421.86 L213.4 422.17 L214.4 422.45 L215.4 422.74 L216.4 423.09 L217.4 423.55 L218.4 424.25 L219.4 425.16 L220.4 426.21 L221.4 427.32 L222.4 428.39 L223.4 429.33 L224.4 430.13 L225.4 430.88 L226.4 431.59 L227.4 432.28 L228.4 432.96 L229.4 433.63 L230.4 434.33 L231.4 435.04 L232.4 435.76 L233.4 436.47 L234.4 437.18 L235.4 437.89 L236.4 438.59 L237.4 439.29 L238.4 439.98 L239.4 440.67 L240.4 441.35 L241.4 442.03 L242.4 442.68 L243.4 443.31 L244.4 443.93 L245.4 444.52 L246.4 445.11 L247.4 445.69 L248.4 446.28 L249.4 446.88 L250.4 447.49 L251.4 448.11 L252.4 448.73 L253.4 449.35 L254.4 449.95 L255.4 450.55 L256.4 451.13 L257.4 451.69 L258.4 452.24 L259.4 452.78 L260.4 453.32 L261.4 453.86 L262.4 454.41 L263.4 454.96 L264.4 455.51 L265.4 456.06 L266.4 456.62 L267.4 457.18 L268.4 457.76 L269.4 458.34 L270.4 458.94 L271.4 459.54 L272.4 460.15 L273.4 460.77 L274.4 461.39 L275.4 462.03 L276.4 462.66 L277.4 463.29 L278.4 463.94 L279.4 464.6 L280.4 465.28 L281.4 466 L282.4 466.75 L283.4 467.54 L284.4 468.35 L285.4 469.19 L286.4 470.05 L287.4 470.92 L288.4 471.82 L289.4 472.75 L290.4 473.71 L291.4 474.68 L292.4 475.65 L293.4 476.62 L294.4 477.57 L295.4 478.51 L296.4 479.45 L297.4 480.39 L298.4 481.34 L299.4 482.31 L300.4 483.3 L301.4 484.32 L302.4 485.36 L303.4 486.42 L304.4 487.48 L305.4 488.55 L306.4 489.61 L307.4 490.69 L308.4 491.77 L309.4 492.85 L310 493.5" stroke="#2d9a5c" stroke-width="1.8" fill="none" stroke-linejoin="round"/>
<path d="M55.7 535.43V539.61M53.2 535.43h5M53.2 539.61h5M62.49 488.32V503.33M59.99 488.32h5M59.99 503.33h5M69.98 438.4V470.07M67.48 438.4h5M67.48 470.07h5M76.86 415.16V446.18M74.36 415.16h5M74.36 446.18h5M83.25 403.04V430.13M80.75 403.04h5M80.75 430.13h5M89.64 393.54V420.54M87.14 393.54h5M87.14 420.54h5M96.03 387.67V413.7M93.53 387.67h5M93.53 413.7h5M102.41 382.11V411.02M99.91 382.11h5M99.91 411.02h5M108.8 380.9V409.7M106.3 380.9h5M106.3 409.7h5M115.19 381.15V411.11M112.69 381.15h5M112.69 411.11h5M121.58 383.75V414.71M119.08 383.75h5M119.08 414.71h5M127.96 387.29V415.4M125.46 387.29h5M125.46 415.4h5M134.35 389.72V415.8M131.85 389.72h5M131.85 415.8h5M140.74 393.47V413.72M138.24 393.47h5M138.24 413.72h5M147.12 394.64V411.96M144.62 394.64h5M144.62 411.96h5M153.51 396.97V410.62M151.01 396.97h5M151.01 410.62h5M159.9 397V411.97M157.4 397h5M157.4 411.97h5M166.29 400.15V412.11M163.79 400.15h5M163.79 412.11h5M172.67 404.63V413.61M170.17 404.63h5M170.17 413.61h5M179.06 406.33V414.33M176.56 406.33h5M176.56 414.33h5M185.45 407.39V415.39M182.95 407.39h5M182.95 415.39h5M191.84 409.41V416.4M189.34 409.41h5M189.34 416.4h5M198.22 410.39V416.25M195.72 410.39h5M195.72 416.25h5M204.61 414.35V416.35M202.11 414.35h5M202.11 416.35h5M211 420.25V422.25M208.5 420.25h5M208.5 422.25h5M217.39 422.55V424.55M214.89 422.55h5M214.89 424.55h5M223.77 428.65V430.63M221.27 428.65h5M221.27 430.63h5M230.16 433.46V434.86M227.66 433.46h5M227.66 434.86h5M236.55 438V439.4M234.05 438h5M234.05 439.4h5M242.94 442.32V443.72M240.44 442.32h5M240.44 443.72h5M249.32 446.14V447.54M246.82 446.14h5M246.82 447.54h5M255.71 450.03V451.43M253.21 450.03h5M253.21 451.43h5M262.1 453.54V454.94M259.6 453.54h5M259.6 454.94h5M268.49 457.11V458.51M265.99 457.11h5M265.99 458.51h5M274.87 460.99V462.39M272.37 460.99h5M272.37 462.39h5M281.26 465.2V466.6M278.76 465.2h5M278.76 466.6h5M287.65 470.44V471.84M285.15 470.44h5M285.15 471.84h5M294.04 476.53V477.93M291.54 476.53h5M291.54 477.93h5M300.42 482.63V484.03M297.92 482.63h5M297.92 484.03h5M306.81 489.35V490.75M304.31 489.35h5M304.31 490.75h5" stroke="#2b2b2b" stroke-width="0.65" fill="none" opacity="0.9"/>
<text x="49.6" y="579.8" text-anchor="end" class="tk">0</text>
<text x="49.6" y="529.06" text-anchor="end" class="tk">0.04</text>
<text x="49.6" y="477.92" text-anchor="end" class="tk">0.08</text>
<text x="49.6" y="426.78" text-anchor="end" class="tk">0.12</text>
<text x="49.6" y="375.64" text-anchor="end" class="tk">0.16</text>
<text x="49.6" y="324.5" text-anchor="end" class="tk">0.2</text>
<text x="46.6" y="590.85" class="tk">10<tspan dy="-4.7" class="sup">-8</tspan></text>
<text x="106.9" y="590.85" class="tk">10<tspan dy="-4.7" class="sup">-6</tspan></text>
<text x="181.8" y="593.95" class="tk" text-anchor="middle">0.0001</text>
<text x="246" y="593.95" class="tk" text-anchor="middle">0.01</text>
<text x="310.6" y="593.95" class="tk" text-anchor="middle">1</text>
<text x="114" y="610.8" class="ti" textLength="136.3" lengthAdjust="spacingAndGlyphs">sliding velocity [m/s]</text>
<text transform="translate(13.6 523.6) rotate(-90)" class="ty" style="font-size:16.2px" textLength="146.3" lengthAdjust="spacingAndGlyphs">friction coefficient [-]</text>
<text x="57.2" y="341.5" class="tag" textLength="16.4" lengthAdjust="spacingAndGlyphs">(c)</text>
<text x="68.65" y="555.3" class="tk2">25°C</text>
<path d="M228.4 510.4h10" stroke="#2f66a6" stroke-width="1.6"/>
<text x="241.6" y="515.2" class="lg">base oil</text>
<path d="M228.4 529.5h10" stroke="#cf2460" stroke-width="1.6"/>
<text x="241.6" y="534.3" class="lg">0.5%</text>
<path d="M228.4 548.6h10" stroke="#2d9a5c" stroke-width="1.6"/>
<text x="241.6" y="553.4" class="lg">1%</text>
</g>
<g>
<rect x="398.9" y="319.3" width="256.2" height="256.7" fill="none" stroke="#111111" stroke-width="1.5"/>
<path d="M408.54 576v-4.8M408.54 319.3v4.8M414.18 576v-4.8M414.18 319.3v4.8M418.18 576v-4.8M418.18 319.3v4.8M421.28 576v-4.8M421.28 319.3v4.8M423.82 576v-4.8M423.82 319.3v4.8M425.96 576v-4.8M425.96 319.3v4.8M427.82 576v-4.8M427.82 319.3v4.8M429.46 576v-4.8M429.46 319.3v4.8M430.92 576v-9M430.92 319.3v9M440.57 576v-4.8M440.57 319.3v4.8M446.2 576v-4.8M446.2 319.3v4.8M450.21 576v-4.8M450.21 319.3v4.8M453.31 576v-4.8M453.31 319.3v4.8M455.85 576v-4.8M455.85 319.3v4.8M457.99 576v-4.8M457.99 319.3v4.8M459.85 576v-4.8M459.85 319.3v4.8M461.48 576v-4.8M461.48 319.3v4.8M462.95 576v-9M462.95 319.3v9M472.59 576v-4.8M472.59 319.3v4.8M478.23 576v-4.8M478.23 319.3v4.8M482.23 576v-4.8M482.23 319.3v4.8M485.33 576v-4.8M485.33 319.3v4.8M487.87 576v-4.8M487.87 319.3v4.8M490.01 576v-4.8M490.01 319.3v4.8M491.87 576v-4.8M491.87 319.3v4.8M493.51 576v-4.8M493.51 319.3v4.8M494.98 576v-9M494.98 319.3v9M504.62 576v-4.8M504.62 319.3v4.8M510.25 576v-4.8M510.25 319.3v4.8M514.26 576v-4.8M514.26 319.3v4.8M517.36 576v-4.8M517.36 319.3v4.8M519.9 576v-4.8M519.9 319.3v4.8M522.04 576v-4.8M522.04 319.3v4.8M523.9 576v-4.8M523.9 319.3v4.8M525.53 576v-4.8M525.53 319.3v4.8M527 576v-9M527 319.3v9M536.64 576v-4.8M536.64 319.3v4.8M542.28 576v-4.8M542.28 319.3v4.8M546.28 576v-4.8M546.28 319.3v4.8M549.38 576v-4.8M549.38 319.3v4.8M551.92 576v-4.8M551.92 319.3v4.8M554.06 576v-4.8M554.06 319.3v4.8M555.92 576v-4.8M555.92 319.3v4.8M557.56 576v-4.8M557.56 319.3v4.8M559.02 576v-9M559.02 319.3v9M568.67 576v-4.8M568.67 319.3v4.8M574.3 576v-4.8M574.3 319.3v4.8M578.31 576v-4.8M578.31 319.3v4.8M581.41 576v-4.8M581.41 319.3v4.8M583.95 576v-4.8M583.95 319.3v4.8M586.09 576v-4.8M586.09 319.3v4.8M587.95 576v-4.8M587.95 319.3v4.8M589.58 576v-4.8M589.58 319.3v4.8M591.05 576v-9M591.05 319.3v9M600.69 576v-4.8M600.69 319.3v4.8M606.33 576v-4.8M606.33 319.3v4.8M610.33 576v-4.8M610.33 319.3v4.8M613.43 576v-4.8M613.43 319.3v4.8M615.97 576v-4.8M615.97 319.3v4.8M618.11 576v-4.8M618.11 319.3v4.8M619.97 576v-4.8M619.97 319.3v4.8M621.61 576v-4.8M621.61 319.3v4.8M623.08 576v-9M623.08 319.3v9M632.72 576v-4.8M632.72 319.3v4.8M638.35 576v-4.8M638.35 319.3v4.8M642.36 576v-4.8M642.36 319.3v4.8M645.46 576v-4.8M645.46 319.3v4.8M648 576v-4.8M648 319.3v4.8M650.14 576v-4.8M650.14 319.3v4.8M652 576v-4.8M652 319.3v4.8M653.63 576v-4.8M653.63 319.3v4.8M398.9 550.33h4.8M655.1 550.33h-4.8M398.9 524.66h9M655.1 524.66h-9M398.9 498.99h4.8M655.1 498.99h-4.8M398.9 473.32h9M655.1 473.32h-9M398.9 447.65h4.8M655.1 447.65h-4.8M398.9 421.98h9M655.1 421.98h-9M398.9 396.31h4.8M655.1 396.31h-4.8M398.9 370.64h9M655.1 370.64h-9M398.9 344.97h4.8M655.1 344.97h-4.8" stroke="#111111" stroke-width="1.35" fill="none"/>
<path d="M399.5 545 L400.5 540.8 L401.5 536.89 L402.5 532.69 L403.5 527.58 L404.5 520.23 L405.5 509.58 L406.5 501.95 L407.5 495 L408.5 487.5 L409.5 478.64 L410.5 474.79 L411.5 472.04 L412.5 468.56 L413.5 465.08 L414.5 461.99 L415.5 459.1 L416.5 456.36 L417.5 453.75 L418.5 451.27 L419.5 448.94 L420.5 446.81 L421.5 444.84 L422.5 442.95 L423.5 441.01 L424.5 438.93 L425.5 436.7 L426.5 434.51 L427.5 432.54 L428.5 430.69 L429.5 428.89 L430.5 427.18 L431.5 425.55 L432.5 424.02 L433.5 422.6 L434.5 421.28 L435.5 420.03 L436.5 418.83 L437.5 417.7 L438.5 416.66 L439.5 415.69 L440.5 414.82 L441.5 413.98 L442.5 413.17 L443.5 412.41 L444.5 411.72 L445.5 411.12 L446.5 410.63 L447.5 410.27 L448.5 409.94 L449.5 409.63 L450.5 409.36 L451.5 409.13 L452.5 408.98 L453.5 408.9 L454.5 408.91 L455.5 408.98 L456.5 409.08 L457.5 409.21 L458.5 409.35 L459.5 409.49 L460.5 409.61 L461.5 409.73 L462.5 409.87 L463.5 410.01 L464.5 410.14 L465.5 410.26 L466.5 410.36 L467.5 410.43 L468.5 410.49 L469.5 410.55 L470.5 410.61 L471.5 410.65 L472.5 410.68 L473.5 410.7 L474.5 410.69 L475.5 410.67 L476.5 410.62 L477.5 410.57 L478.5 410.51 L479.5 410.45 L480.5 410.39 L481.5 410.35 L482.5 410.3 L483.5 410.25 L484.5 410.19 L485.5 410.13 L486.5 410.05 L487.5 409.96 L488.5 409.79 L489.5 409.59 L490.5 409.39 L491.5 409.23 L492.5 409.14 L493.5 409.06 L494.5 409 L495.5 408.94 L496.5 408.89 L497.5 408.84 L498.5 408.79 L499.5 408.74 L500.5 408.69 L501.5 408.64 L502.5 408.6 L503.5 408.56 L504.5 408.51 L505.5 408.46 L506.5 408.4 L507.5 408.34 L508.5 408.28 L509.5 408.23 L510.5 408.21 L511.5 408.2 L512.5 408.2 L513.5 408.2 L514.5 408.2 L515.5 408.2 L516.5 408.2 L517.5 408.2 L518.5 408.21 L519.5 408.25 L520.5 408.3 L521.5 408.36 L522.5 408.42 L523.5 408.48 L524.5 408.53 L525.5 408.57 L526.5 408.6 L527.5 408.64 L528.5 408.69 L529.5 408.74 L530.5 408.8 L531.5 408.89 L532.5 409.03 L533.5 409.19 L534.5 409.36 L535.5 409.52 L536.5 409.66 L537.5 409.77 L538.5 409.87 L539.5 409.95 L540.5 410.03 L541.5 410.11 L542.5 410.21 L543.5 410.33 L544.5 410.47 L545.5 410.65 L546.5 410.84 L547.5 411.04 L548.5 411.25 L549.5 411.44 L550.5 411.63 L551.5 411.81 L552.5 411.99 L553.5 412.17 L554.5 412.36 L555.5 412.56 L556.5 412.76 L557.5 412.98 L558.5 413.2 L559.5 413.43 L560.5 413.67 L561.5 413.92 L562.5 414.17 L563.5 414.44 L564.5 414.73 L565.5 415.03 L566.5 415.33 L567.5 415.63 L568.5 415.93 L569.5 416.21 L570.5 416.48 L571.5 416.74 L572.5 416.99 L573.5 417.26 L574.5 417.55 L575.5 417.87 L576.5 418.22 L577.5 418.61 L578.5 419.02 L579.5 419.45 L580.5 419.89 L581.5 420.34 L582.5 420.81 L583.5 421.31 L584.5 421.82 L585.5 422.34 L586.5 422.84 L587.5 423.31 L588.5 423.75 L589.5 424.17 L590.5 424.57 L591.5 424.96 L592.5 425.36 L593.5 425.76 L594.5 426.19 L595.5 426.62 L596.5 427.06 L597.5 427.51 L598.5 427.97 L599.5 428.43 L600.5 428.9 L601.5 429.38 L602.5 429.88 L603.5 430.38 L604.5 430.89 L605.5 431.39 L606.5 431.87 L607.5 432.33 L608.5 432.76 L609.5 433.18 L610.5 433.6 L611.5 434.02 L612.5 434.45 L613.5 434.89 L614.5 435.33 L615.5 435.78 L616.5 436.23 L617.5 436.7 L618.5 437.2 L619.5 437.73 L620.5 438.31 L621.5 438.96 L622.5 439.64 L623.5 440.37 L624.5 441.13 L625.5 441.91 L626.5 442.7 L627.5 443.51 L628.5 444.34 L629.5 445.21 L630.5 446.12 L631.5 447.08 L632.5 448.1 L633.5 449.17 L634.5 450.32 L635.5 451.54 L636.5 452.83 L637.5 454.18 L638.5 455.61 L639.5 457.13 L640.5 458.88 L641.5 460.76 L642.5 462.61 L643.5 464.28 L644.5 465.79 L645.5 467.26 L646.5 466.4 L647.5 465.57 L648.5 464.36 L649.5 459.87 L650.5 451.6 L651.5 441.27 L652.5 440.22 L653.5 442.6 L654.5 444.36 L655.1 445.4" stroke="#2f66a6" stroke-width="1.8" fill="none" stroke-linejoin="round"/>
<path d="M400.3 539.61V543.58M397.8 539.61h5M397.8 543.58h5M407.1 491.17V504.34M404.6 491.17h5M404.6 504.34h5M414.61 458.73V464.58M412.11 458.73h5M412.11 464.58h5M421.51 444.11V445.51M419.01 444.11h5M419.01 445.51h5M427.92 431.05V432.45M425.42 431.05h5M425.42 432.45h5M434.32 420.81V422.21M431.82 420.81h5M431.82 422.21h5M440.73 413.92V415.32M438.23 413.92h5M438.23 415.32h5M447.13 409.69V411.09M444.63 409.69h5M444.63 411.09h5M453.54 408.2V409.6M451.04 408.2h5M451.04 409.6h5M459.94 408.85V410.25M457.44 408.85h5M457.44 410.25h5M466.35 409.64V411.04M463.85 409.64h5M463.85 411.04h5M472.75 409.99V411.39M470.25 409.99h5M470.25 411.39h5M479.16 409.77V411.17M476.66 409.77h5M476.66 411.17h5M485.56 409.42V410.82M483.06 409.42h5M483.06 410.82h5M491.97 408.48V409.88M489.47 408.48h5M489.47 409.88h5M498.37 408.1V409.5M495.87 408.1h5M495.87 409.5h5M504.78 407.8V409.2M502.28 407.8h5M502.28 409.2h5M511.18 407.5V408.9M508.68 407.5h5M508.68 408.9h5M517.59 407.5V408.9M515.09 407.5h5M515.09 408.9h5M523.99 407.8V409.2M521.49 407.8h5M521.49 409.2h5M530.4 408.09V409.49M527.9 408.09h5M527.9 409.49h5M536.8 409V410.4M534.3 409h5M534.3 410.4h5M543.21 409.59V410.99M540.71 409.59h5M540.71 410.99h5M549.61 410.74V412.19M547.11 410.74h5M547.11 412.19h5M556.02 411.66V413.66M553.52 411.66h5M553.52 413.66h5M562.42 413.09V415.22M559.92 413.09h5M559.92 415.22h5M568.83 414.89V417.16M566.33 414.89h5M566.33 417.16h5M575.23 416.56V418.99M572.73 416.56h5M572.73 418.99h5M581.64 418.77V422.03M579.14 418.77h5M579.14 422.03h5M588.04 421.54V425.56M585.54 421.54h5M585.54 425.56h5M594.45 423.96V428.37M591.95 423.96h5M591.95 428.37h5M600.85 426.62V431.51M598.35 426.62h5M598.35 431.51h5M607.26 429.02V435.42M604.76 429.02h5M604.76 435.42h5M613.66 431.76V438.16M611.16 431.76h5M611.16 438.16h5M620.07 434.8V441.31M617.57 434.8h5M617.57 441.31h5M626.47 438.12V447.23M623.97 438.12h5M623.97 447.23h5M632.88 443.18V453.81M630.38 443.18h5M630.38 453.81h5M639.28 451.2V462.37M636.78 451.2h5M636.78 462.37h5M645.69 465.58V468.98M643.19 465.58h5M643.19 468.98h5M652.09 426.59V452.59M649.59 426.59h5M649.59 452.59h5" stroke="#2b2b2b" stroke-width="0.65" fill="none" opacity="0.9"/>
<path d="M399.5 545 L400.5 540.8 L401.5 536.89 L402.5 532.69 L403.5 527.58 L404.5 520.23 L405.5 509.58 L406.5 501.95 L407.5 495 L408.5 487.57 L409.5 478.85 L410.5 472.28 L411.5 466.58 L412.5 461.2 L413.5 455.16 L414.5 449.33 L415.5 443.99 L416.5 439.05 L417.5 434.52 L418.5 430.21 L419.5 425.86 L420.5 421.71 L421.5 418.11 L422.5 415.14 L423.5 412.44 L424.5 409.98 L425.5 407.72 L426.5 405.61 L427.5 403.61 L428.5 401.73 L429.5 399.94 L430.5 398.25 L431.5 396.65 L432.5 395.14 L433.5 393.71 L434.5 392.35 L435.5 391.04 L436.5 389.79 L437.5 388.6 L438.5 387.48 L439.5 386.45 L440.5 385.51 L441.5 384.63 L442.5 383.78 L443.5 382.98 L444.5 382.24 L445.5 381.58 L446.5 381 L447.5 380.51 L448.5 380.06 L449.5 379.64 L450.5 379.26 L451.5 378.93 L452.5 378.65 L453.5 378.45 L454.5 378.3 L455.5 378.17 L456.5 378.05 L457.5 377.94 L458.5 377.86 L459.5 377.82 L460.5 377.8 L461.5 377.81 L462.5 377.82 L463.5 377.85 L464.5 377.88 L465.5 377.92 L466.5 377.97 L467.5 378.03 L468.5 378.2 L469.5 378.47 L470.5 378.8 L471.5 379.17 L472.5 379.55 L473.5 379.9 L474.5 380.22 L475.5 380.53 L476.5 380.85 L477.5 381.18 L478.5 381.51 L479.5 381.87 L480.5 382.24 L481.5 382.67 L482.5 383.14 L483.5 383.61 L484.5 384.03 L485.5 384.35 L486.5 384.6 L487.5 384.81 L488.5 385.01 L489.5 385.21 L490.5 385.44 L491.5 385.71 L492.5 386.04 L493.5 386.45 L494.5 386.91 L495.5 387.42 L496.5 387.99 L497.5 388.59 L498.5 389.23 L499.5 389.96 L500.5 390.79 L501.5 391.69 L502.5 392.64 L503.5 393.62 L504.5 394.6 L505.5 395.61 L506.5 396.68 L507.5 397.79 L508.5 398.91 L509.5 400.02 L510.5 401.09 L511.5 402.1 L512.5 403.14 L513.5 404.18 L514.5 405.19 L515.5 406.13 L516.5 406.96 L517.5 407.64 L518.5 408.18 L519.5 408.64 L520.5 409.05 L521.5 409.42 L522.5 409.78 L523.5 410.15 L524.5 410.53 L525.5 410.91 L526.5 411.28 L527.5 411.64 L528.5 412 L529.5 412.35 L530.5 412.7 L531.5 413.04 L532.5 413.36 L533.5 413.68 L534.5 414 L535.5 414.34 L536.5 414.69 L537.5 415.06 L538.5 415.45 L539.5 415.86 L540.5 416.28 L541.5 416.72 L542.5 417.2 L543.5 417.7 L544.5 418.27 L545.5 418.9 L546.5 419.56 L547.5 420.25 L548.5 420.94 L549.5 421.61 L550.5 422.26 L551.5 422.92 L552.5 423.6 L553.5 424.26 L554.5 424.9 L555.5 425.51 L556.5 426.06 L557.5 426.55 L558.5 427.01 L559.5 427.45 L560.5 427.88 L561.5 428.34 L562.5 428.85 L563.5 429.41 L564.5 430.03 L565.5 430.69 L566.5 431.36 L567.5 432.02 L568.5 432.65 L569.5 433.22 L570.5 433.77 L571.5 434.3 L572.5 434.81 L573.5 435.31 L574.5 435.8 L575.5 436.3 L576.5 436.79 L577.5 437.28 L578.5 437.76 L579.5 438.23 L580.5 438.69 L581.5 439.13 L582.5 439.58 L583.5 440.03 L584.5 440.47 L585.5 440.89 L586.5 441.28 L587.5 441.64 L588.5 441.94 L589.5 442.22 L590.5 442.48 L591.5 442.72 L592.5 442.96 L593.5 443.2 L594.5 443.45 L595.5 443.7 L596.5 443.94 L597.5 444.19 L598.5 444.44 L599.5 444.71 L600.5 445 L601.5 445.32 L602.5 445.68 L603.5 446.06 L604.5 446.45 L605.5 446.87 L606.5 447.29 L607.5 447.71 L608.5 448.16 L609.5 448.61 L610.5 449.08 L611.5 449.57 L612.5 450.08 L613.5 450.61 L614.5 451.16 L615.5 451.73 L616.5 452.32 L617.5 452.93 L618.5 453.56 L619.5 454.21 L620.5 454.86 L621.5 455.54 L622.5 456.24 L623.5 456.96 L624.5 457.69 L625.5 458.43 L626.5 459.17 L627.5 459.92 L628.5 460.69 L629.5 461.46 L630.5 462.25 L631.5 463.07 L632.5 463.91 L633.5 464.8 L634.5 465.72 L635.5 466.68 L636.5 467.66 L637.5 468.64 L638.5 469.62 L639.5 470.58 L640.5 471.55 L641.5 472.51 L642.5 473.48 L643.5 474.45 L644.5 475.43 L645.5 476.4 L646.5 477.39 L647.5 478.39 L648.5 479.39 L649.5 480.36 L650.5 481.3 L651.5 482.19 L652.5 483.05 L653.5 483.89 L654.5 484.72 L655.3 485.4" stroke="#cf2460" stroke-width="1.8" fill="none" stroke-linejoin="round"/>
<path d="M400.3 539.19V543.99M397.8 539.19h5M397.8 543.99h5M407.1 491.25V504.87M404.6 491.25h5M404.6 504.87h5M414.61 441.85V461.74M412.11 441.85h5M412.11 461.74h5M421.51 414.71V431.33M419.01 414.71h5M419.01 431.33h5M427.92 397.66V414.94M425.42 397.66h5M425.42 414.94h5M434.32 386.07V400.07M431.82 386.07h5M431.82 400.07h5M440.73 378.29V392.32M438.23 378.29h5M438.23 392.32h5M447.13 373.27V388.1M444.63 373.27h5M444.63 388.1h5M453.54 370.42V386.46M451.04 370.42h5M451.04 386.46h5M459.94 368.82V386.79M457.44 368.82h5M457.44 386.79h5M466.35 369.46V386.46M463.85 369.46h5M463.85 386.46h5M472.75 371.14V388.14M470.25 371.14h5M470.25 388.14h5M479.16 373.29V390.19M476.66 373.29h5M476.66 390.19h5M485.56 377.88V390.85M483.06 377.88h5M483.06 390.85h5M491.97 380.06V391.65M489.47 380.06h5M489.47 391.65h5M498.37 383.65V394.65M495.87 383.65h5M495.87 394.65h5M504.78 389.22V400.53M502.28 389.22h5M502.28 400.53h5M511.18 399.8V403.77M508.68 399.8h5M508.68 403.77h5M517.59 406.69V408.7M515.09 406.69h5M515.09 408.7h5M523.99 409.23V411.44M521.49 409.23h5M521.49 411.44h5M530.4 411.42V413.91M527.9 411.42h5M527.9 413.91h5M536.8 412.8V416.8M534.3 412.8h5M534.3 416.8h5M543.21 416.54V418.57M540.71 416.54h5M540.71 418.57h5M549.61 420.69V422.67M547.11 420.69h5M547.11 422.67h5M556.02 424.82V426.78M553.52 424.82h5M553.52 426.78h5M562.42 427.84V429.77M559.92 427.84h5M559.92 429.77h5M568.83 431.89V433.8M566.33 431.89h5M566.33 433.8h5M575.23 435.22V437.11M572.73 435.22h5M572.73 437.11h5M581.64 438.26V440.13M579.14 438.26h5M579.14 440.13h5M588.04 440.89V442.73M585.54 440.89h5M585.54 442.73h5M594.45 442.53V444.35M591.95 442.53h5M591.95 444.35h5M600.85 444.21V446.01M598.35 444.21h5M598.35 446.01h5M607.26 446.72V448.5M604.76 446.72h5M604.76 448.5h5M613.66 449.82V451.57M611.16 449.82h5M611.16 451.57h5M620.07 453.71V455.44M617.57 453.71h5M617.57 455.44h5M626.47 458.3V460.01M623.97 458.3h5M623.97 460.01h5M632.88 463.4V465.08M630.38 463.4h5M630.38 465.08h5M639.28 469.55V471.21M636.78 469.55h5M636.78 471.21h5M645.69 475.77V477.4M643.19 475.77h5M643.19 477.4h5M652.09 481.9V483.51M649.59 481.9h5M649.59 483.51h5" stroke="#2b2b2b" stroke-width="0.65" fill="none" opacity="0.9"/>
<path d="M399.5 545 L400.5 539.19 L401.5 533.46 L402.5 527.25 L403.5 519.77 L404.5 511.04 L405.5 503.46 L406.5 496.25 L407.5 488.38 L408.5 479.71 L409.5 472.29 L410.5 465.19 L411.5 458.16 L412.5 452.26 L413.5 447.11 L414.5 442.52 L415.5 438.37 L416.5 434.52 L417.5 431.38 L418.5 428.68 L419.5 424.77 L420.5 420.35 L421.5 416.51 L422.5 413.56 L423.5 410.85 L424.5 408.39 L425.5 406.2 L426.5 404.29 L427.5 402.69 L428.5 401.26 L429.5 399.97 L430.5 398.8 L431.5 397.74 L432.5 396.76 L433.5 395.86 L434.5 395.02 L435.5 394.23 L436.5 393.5 L437.5 392.81 L438.5 392.18 L439.5 391.59 L440.5 391.05 L441.5 390.52 L442.5 390.01 L443.5 389.52 L444.5 389.08 L445.5 388.68 L446.5 388.36 L447.5 388.1 L448.5 387.87 L449.5 387.64 L450.5 387.44 L451.5 387.28 L452.5 387.16 L453.5 387.1 L454.5 387.12 L455.5 387.2 L456.5 387.34 L457.5 387.52 L458.5 387.73 L459.5 387.97 L460.5 388.23 L461.5 388.56 L462.5 389.01 L463.5 389.55 L464.5 390.15 L465.5 390.78 L466.5 391.42 L467.5 392.05 L468.5 392.74 L469.5 393.48 L470.5 394.25 L471.5 395.03 L472.5 395.78 L473.5 396.5 L474.5 397.17 L475.5 397.87 L476.5 398.57 L477.5 399.23 L478.5 399.83 L479.5 400.34 L480.5 400.73 L481.5 401.02 L482.5 401.24 L483.5 401.44 L484.5 401.67 L485.5 401.94 L486.5 402.26 L487.5 402.59 L488.5 402.95 L489.5 403.32 L490.5 403.7 L491.5 404.08 L492.5 404.48 L493.5 404.92 L494.5 405.38 L495.5 405.85 L496.5 406.29 L497.5 406.71 L498.5 407.07 L499.5 407.38 L500.5 407.65 L501.5 407.91 L502.5 408.17 L503.5 408.44 L504.5 408.74 L505.5 409.07 L506.5 409.44 L507.5 409.82 L508.5 410.22 L509.5 410.61 L510.5 410.99 L511.5 411.34 L512.5 411.68 L513.5 412.03 L514.5 412.36 L515.5 412.68 L516.5 412.99 L517.5 413.27 L518.5 413.53 L519.5 413.76 L520.5 413.97 L521.5 414.19 L522.5 414.42 L523.5 414.68 L524.5 415 L525.5 415.39 L526.5 415.84 L527.5 416.31 L528.5 416.78 L529.5 417.22 L530.5 417.6 L531.5 417.91 L532.5 418.18 L533.5 418.43 L534.5 418.68 L535.5 418.96 L536.5 419.29 L537.5 419.7 L538.5 420.22 L539.5 420.81 L540.5 421.46 L541.5 422.13 L542.5 422.79 L543.5 423.42 L544.5 424.01 L545.5 424.57 L546.5 425.15 L547.5 425.75 L548.5 426.41 L549.5 427.16 L550.5 428.06 L551.5 429.2 L552.5 430.41 L553.5 431.52 L554.5 432.62 L555.5 433.64 L556.5 434.4 L557.5 434.98 L558.5 435.48 L559.5 435.91 L560.5 436.33 L561.5 436.76 L562.5 437.25 L563.5 437.8 L564.5 438.4 L565.5 439.02 L566.5 439.65 L567.5 440.25 L568.5 440.8 L569.5 441.29 L570.5 441.73 L571.5 442.14 L572.5 442.54 L573.5 442.92 L574.5 443.29 L575.5 443.68 L576.5 444.05 L577.5 444.42 L578.5 444.79 L579.5 445.15 L580.5 445.53 L581.5 445.92 L582.5 446.34 L583.5 446.78 L584.5 447.22 L585.5 447.66 L586.5 448.07 L587.5 448.43 L588.5 448.75 L589.5 449.04 L590.5 449.3 L591.5 449.55 L592.5 449.81 L593.5 450.07 L594.5 450.36 L595.5 450.67 L596.5 450.99 L597.5 451.31 L598.5 451.64 L599.5 451.97 L600.5 452.3 L601.5 452.63 L602.5 452.95 L603.5 453.28 L604.5 453.61 L605.5 453.93 L606.5 454.25 L607.5 454.55 L608.5 454.84 L609.5 455.12 L610.5 455.4 L611.5 455.68 L612.5 455.97 L613.5 456.26 L614.5 456.55 L615.5 456.85 L616.5 457.15 L617.5 457.45 L618.5 457.77 L619.5 458.1 L620.5 458.44 L621.5 458.79 L622.5 459.15 L623.5 459.53 L624.5 459.93 L625.5 460.37 L626.5 460.85 L627.5 461.38 L628.5 461.97 L629.5 462.6 L630.5 463.26 L631.5 463.94 L632.5 464.63 L633.5 465.34 L634.5 466.08 L635.5 466.85 L636.5 467.64 L637.5 468.46 L638.5 469.29 L639.5 470.14 L640.5 471.05 L641.5 471.99 L642.5 472.96 L643.5 473.91 L644.5 474.83 L645.5 475.7 L646.5 476.51 L647.5 477.3 L648.5 478.06 L649.5 478.79 L650.5 479.5 L651.5 480.18 L652.5 480.83 L653.5 481.46 L654.5 482.09 L655.3 482.6" stroke="#2d9a5c" stroke-width="1.8" fill="none" stroke-linejoin="round"/>
<path d="M400.3 537.93V542.73M397.8 537.93h5M397.8 542.73h5M407.1 485.1V498.65M404.6 485.1h5M404.6 498.65h5M414.61 436.15V454.08M412.11 436.15h5M412.11 454.08h5M421.51 413.4V429.43M419.01 413.4h5M419.01 429.43h5M427.92 397.05V414.08M425.42 397.05h5M425.42 414.08h5M434.32 386.68V404.6M431.82 386.68h5M431.82 404.6h5M440.73 382.95V398.9M438.23 382.95h5M438.23 398.9h5M447.13 380.82V395.57M444.63 380.82h5M444.63 395.57h5M453.54 380.94V393.27M451.04 380.94h5M451.04 393.27h5M459.94 383.62V392.55M457.44 383.62h5M457.44 392.55h5M466.35 388.33V394.32M463.85 388.33h5M463.85 394.32h5M472.75 393.23V398.72M470.25 393.23h5M470.25 398.72h5M479.16 397.68V402.68M476.66 397.68h5M476.66 402.68h5M485.56 399.58V404.34M483.06 399.58h5M483.06 404.34h5M491.97 402.68V405.85M489.47 402.68h5M489.47 405.85h5M498.37 406.03V408.03M495.87 406.03h5M495.87 408.03h5M504.78 407.83V409.83M502.28 407.83h5M502.28 409.83h5M511.18 410.23V412.23M508.68 410.23h5M508.68 412.23h5M517.59 412.3V414.3M515.09 412.3h5M515.09 414.3h5M523.99 413.83V415.83M521.49 413.83h5M521.49 415.83h5M530.4 415.58V419.55M527.9 415.58h5M527.9 419.55h5M536.8 418.37V420.43M534.3 418.37h5M534.3 420.43h5M543.21 422.25V424.23M540.71 422.25h5M540.71 424.23h5M549.61 426.27V428.23M547.11 426.27h5M547.11 428.23h5M556.02 433.1V435.04M553.52 433.1h5M553.52 435.04h5M562.42 436.25V438.17M559.92 436.25h5M559.92 438.17h5M568.83 440.02V441.91M566.33 440.02h5M566.33 441.91h5M575.23 442.64V444.51M572.73 442.64h5M572.73 444.51h5M581.64 445.05V446.9M579.14 445.05h5M579.14 446.9h5M588.04 447.7V449.53M585.54 447.7h5M585.54 449.53h5M594.45 449.44V451.25M591.95 449.44h5M591.95 451.25h5M600.85 451.52V453.31M598.35 451.52h5M598.35 453.31h5M607.26 453.6V455.36M604.76 453.6h5M604.76 455.36h5M613.66 455.44V457.18M611.16 455.44h5M611.16 457.18h5M620.07 457.43V459.15M617.57 457.43h5M617.57 459.15h5M626.47 459.98V461.68M623.97 459.98h5M623.97 461.68h5M632.88 464.06V465.73M630.38 464.06h5M630.38 465.73h5M639.28 469.13V470.79M636.78 469.13h5M636.78 470.79h5M645.69 475.04V476.67M643.19 475.04h5M643.19 476.67h5M652.09 479.76V481.37M649.59 479.76h5M649.59 481.37h5" stroke="#2b2b2b" stroke-width="0.65" fill="none" opacity="0.9"/>
<text x="393.9" y="580.9" text-anchor="end" class="tk">0</text>
<text x="393.9" y="529.86" text-anchor="end" class="tk">0.04</text>
<text x="393.9" y="478.52" text-anchor="end" class="tk">0.08</text>
<text x="393.9" y="427.18" text-anchor="end" class="tk">0.12</text>
<text x="393.9" y="375.84" text-anchor="end" class="tk">0.16</text>
<text x="393.9" y="324.5" text-anchor="end" class="tk">0.2</text>
<text x="392.9" y="591.15" class="tk">10<tspan dy="-4.7" class="sup">-8</tspan></text>
<text x="450.9" y="591.15" class="tk">10<tspan dy="-4.7" class="sup">-6</tspan></text>
<text x="526.9" y="594.45" class="tk" text-anchor="middle">0.0001</text>
<text x="590.3" y="594.45" class="tk" text-anchor="middle">0.01</text>
<text x="654.9" y="594.45" class="tk" text-anchor="middle">1</text>
<text x="458.2" y="610.8" class="ti" textLength="137.9" lengthAdjust="spacingAndGlyphs">sliding velocity [m/s]</text>
<text transform="translate(350.6 521.6) rotate(-90)" class="ty" style="font-size:15.6px" textLength="145.7" lengthAdjust="spacingAndGlyphs">friction coefficient [-]</text>
<text x="403" y="339.4" class="tag" textLength="17.3" lengthAdjust="spacingAndGlyphs">(d)</text>
<text x="413.35" y="555.3" class="tk2">0°C</text>
<path d="M573.6 513.1h10" stroke="#2f66a6" stroke-width="1.6"/>
<text x="586.8" y="517.9" class="lg">base oil</text>
<path d="M573.6 532.4h10" stroke="#cf2460" stroke-width="1.6"/>
<text x="586.8" y="537.2" class="lg">0.5%</text>
<path d="M573.6 551.7h10" stroke="#2d9a5c" stroke-width="1.6"/>
<text x="586.8" y="556.5" class="lg">1%</text>
</g>
<g>
<rect x="210" y="640.2" width="257.1" height="258" fill="none" stroke="#111111" stroke-width="1.5"/>
<path d="M219.67 898.2v-4.8M219.67 640.2v4.8M225.33 898.2v-4.8M225.33 640.2v4.8M229.35 898.2v-4.8M229.35 640.2v4.8M232.46 898.2v-4.8M232.46 640.2v4.8M235.01 898.2v-4.8M235.01 640.2v4.8M237.16 898.2v-4.8M237.16 640.2v4.8M239.02 898.2v-4.8M239.02 640.2v4.8M240.67 898.2v-4.8M240.67 640.2v4.8M242.14 898.2v-9M242.14 640.2v9M251.81 898.2v-4.8M251.81 640.2v4.8M257.47 898.2v-4.8M257.47 640.2v4.8M261.49 898.2v-4.8M261.49 640.2v4.8M264.6 898.2v-4.8M264.6 640.2v4.8M267.15 898.2v-4.8M267.15 640.2v4.8M269.3 898.2v-4.8M269.3 640.2v4.8M271.16 898.2v-4.8M271.16 640.2v4.8M272.8 898.2v-4.8M272.8 640.2v4.8M274.27 898.2v-9M274.27 640.2v9M283.95 898.2v-4.8M283.95 640.2v4.8M289.61 898.2v-4.8M289.61 640.2v4.8M293.62 898.2v-4.8M293.62 640.2v4.8M296.74 898.2v-4.8M296.74 640.2v4.8M299.28 898.2v-4.8M299.28 640.2v4.8M301.43 898.2v-4.8M301.43 640.2v4.8M303.3 898.2v-4.8M303.3 640.2v4.8M304.94 898.2v-4.8M304.94 640.2v4.8M306.41 898.2v-9M306.41 640.2v9M316.09 898.2v-4.8M316.09 640.2v4.8M321.75 898.2v-4.8M321.75 640.2v4.8M325.76 898.2v-4.8M325.76 640.2v4.8M328.88 898.2v-4.8M328.88 640.2v4.8M331.42 898.2v-4.8M331.42 640.2v4.8M333.57 898.2v-4.8M333.57 640.2v4.8M335.44 898.2v-4.8M335.44 640.2v4.8M337.08 898.2v-4.8M337.08 640.2v4.8M338.55 898.2v-9M338.55 640.2v9M348.22 898.2v-4.8M348.22 640.2v4.8M353.88 898.2v-4.8M353.88 640.2v4.8M357.9 898.2v-4.8M357.9 640.2v4.8M361.01 898.2v-4.8M361.01 640.2v4.8M363.56 898.2v-4.8M363.56 640.2v4.8M365.71 898.2v-4.8M365.71 640.2v4.8M367.57 898.2v-4.8M367.57 640.2v4.8M369.22 898.2v-4.8M369.22 640.2v4.8M370.69 898.2v-9M370.69 640.2v9M380.36 898.2v-4.8M380.36 640.2v4.8M386.02 898.2v-4.8M386.02 640.2v4.8M390.04 898.2v-4.8M390.04 640.2v4.8M393.15 898.2v-4.8M393.15 640.2v4.8M395.7 898.2v-4.8M395.7 640.2v4.8M397.85 898.2v-4.8M397.85 640.2v4.8M399.71 898.2v-4.8M399.71 640.2v4.8M401.35 898.2v-4.8M401.35 640.2v4.8M402.83 898.2v-9M402.83 640.2v9M412.5 898.2v-4.8M412.5 640.2v4.8M418.16 898.2v-4.8M418.16 640.2v4.8M422.17 898.2v-4.8M422.17 640.2v4.8M425.29 898.2v-4.8M425.29 640.2v4.8M427.83 898.2v-4.8M427.83 640.2v4.8M429.98 898.2v-4.8M429.98 640.2v4.8M431.85 898.2v-4.8M431.85 640.2v4.8M433.49 898.2v-4.8M433.49 640.2v4.8M434.96 898.2v-9M434.96 640.2v9M444.64 898.2v-4.8M444.64 640.2v4.8M450.3 898.2v-4.8M450.3 640.2v4.8M454.31 898.2v-4.8M454.31 640.2v4.8M457.43 898.2v-4.8M457.43 640.2v4.8M459.97 898.2v-4.8M459.97 640.2v4.8M462.12 898.2v-4.8M462.12 640.2v4.8M463.99 898.2v-4.8M463.99 640.2v4.8M465.63 898.2v-4.8M465.63 640.2v4.8M210 872.4h4.8M467.1 872.4h-4.8M210 846.6h9M467.1 846.6h-9M210 820.8h4.8M467.1 820.8h-4.8M210 795h9M467.1 795h-9M210 769.2h4.8M467.1 769.2h-4.8M210 743.4h9M467.1 743.4h-9M210 717.6h4.8M467.1 717.6h-4.8M210 691.8h9M467.1 691.8h-9M210 666h4.8M467.1 666h-4.8" stroke="#111111" stroke-width="1.35" fill="none"/>
<path d="M209.9 868.6 L210.9 863.28 L211.9 858 L212.9 852.51 L213.9 846.54 L214.9 840.04 L215.9 833.27 L216.9 826.28 L217.9 819.05 L218.9 812 L219.9 804.94 L220.9 798.75 L221.9 793.49 L222.9 789.24 L223.9 786.42 L224.9 784.09 L225.9 781.04 L226.9 777.29 L227.9 773.59 L228.9 770.46 L229.9 767.6 L230.9 764.88 L231.9 762.2 L232.9 759.51 L233.9 756.87 L234.9 754.31 L235.9 751.89 L236.9 749.63 L237.9 747.46 L238.9 745.29 L239.9 743.01 L240.9 740.57 L241.9 738.14 L242.9 735.91 L243.9 734.06 L244.9 732.45 L245.9 730.96 L246.9 729.61 L247.9 728.42 L248.9 727.38 L249.9 726.49 L250.9 725.67 L251.9 724.94 L252.9 724.28 L253.9 723.72 L254.9 723.26 L255.9 722.86 L256.9 722.52 L257.9 722.21 L258.9 721.94 L259.9 721.69 L260.9 721.46 L261.9 721.24 L262.9 721.03 L263.9 720.84 L264.9 720.67 L265.9 720.52 L266.9 720.41 L267.9 720.33 L268.9 720.27 L269.9 720.22 L270.9 720.17 L271.9 720.12 L272.9 720.06 L273.9 719.98 L274.9 719.85 L275.9 719.69 L276.9 719.52 L277.9 719.38 L278.9 719.3 L279.9 719.33 L280.9 719.46 L281.9 719.66 L282.9 719.87 L283.9 720.07 L284.9 720.21 L285.9 720.31 L286.9 720.4 L287.9 720.48 L288.9 720.56 L289.9 720.62 L290.9 720.68 L291.9 720.72 L292.9 720.75 L293.9 720.77 L294.9 720.79 L295.9 720.81 L296.9 720.84 L297.9 720.89 L298.9 721.04 L299.9 721.42 L300.9 721.93 L301.9 722.48 L302.9 722.96 L303.9 723.35 L304.9 723.74 L305.9 724.13 L306.9 724.49 L307.9 724.84 L308.9 725.15 L309.9 725.44 L310.9 725.7 L311.9 725.94 L312.9 726.17 L313.9 726.39 L314.9 726.6 L315.9 726.8 L316.9 727.01 L317.9 727.24 L318.9 727.47 L319.9 727.66 L320.9 727.81 L321.9 727.89 L322.9 727.85 L323.9 727.58 L324.9 727.22 L325.9 726.91 L326.9 726.81 L327.9 727.67 L328.9 728.44 L329.9 728.86 L330.9 729.2 L331.9 729.48 L332.9 729.74 L333.9 729.97 L334.9 730.22 L335.9 730.48 L336.9 730.71 L337.9 730.93 L338.9 731.14 L339.9 731.37 L340.9 731.63 L341.9 731.92 L342.9 732.27 L343.9 732.66 L344.9 733.08 L345.9 733.51 L346.9 733.94 L347.9 734.36 L348.9 734.76 L349.9 735.17 L350.9 735.57 L351.9 735.98 L352.9 736.39 L353.9 736.79 L354.9 737.21 L355.9 737.68 L356.9 738.17 L357.9 738.64 L358.9 739.08 L359.9 739.44 L360.9 739.7 L361.9 739.86 L362.9 739.98 L363.9 740.08 L364.9 740.17 L365.9 740.28 L366.9 740.43 L367.9 740.65 L368.9 741.01 L369.9 741.49 L370.9 742.02 L371.9 742.57 L372.9 743.09 L373.9 743.54 L374.9 743.93 L375.9 744.3 L376.9 744.66 L377.9 745.01 L378.9 745.35 L379.9 745.7 L380.9 746.04 L381.9 746.36 L382.9 746.68 L383.9 747 L384.9 747.33 L385.9 747.69 L386.9 748.08 L387.9 748.55 L388.9 749.08 L389.9 749.62 L390.9 750.14 L391.9 750.6 L392.9 751.01 L393.9 751.4 L394.9 751.77 L395.9 752.12 L396.9 752.45 L397.9 752.75 L398.9 753.03 L399.9 753.26 L400.9 753.48 L401.9 753.67 L402.9 753.86 L403.9 754.05 L404.9 754.25 L405.9 754.47 L406.9 754.69 L407.9 754.92 L408.9 755.16 L409.9 755.4 L410.9 755.66 L411.9 755.93 L412.9 756.22 L413.9 756.54 L414.9 756.88 L415.9 757.24 L416.9 757.61 L417.9 757.98 L418.9 758.33 L419.9 758.66 L420.9 758.98 L421.9 759.28 L422.9 759.58 L423.9 759.89 L424.9 760.24 L425.9 760.62 L426.9 761.04 L427.9 761.5 L428.9 762 L429.9 762.52 L430.9 763.08 L431.9 763.66 L432.9 764.27 L433.9 764.91 L434.9 765.6 L435.9 766.34 L436.9 767.14 L437.9 768.01 L438.9 769.01 L439.9 770.18 L440.9 771.46 L441.9 772.79 L442.9 774.11 L443.9 775.35 L444.9 776.48 L445.9 777.56 L446.9 778.61 L447.9 779.65 L448.9 780.69 L449.9 781.75 L450.9 782.85 L451.9 783.97 L452.9 785.09 L453.9 786.23 L454.9 787.39 L455.9 788.57 L456.9 789.76 L457.9 790.93 L458.9 792.11 L459.9 793.33 L460.9 794.62 L461.9 796.01 L462.9 797.56 L463.9 799.31 L464.9 801.17 L465.9 803.07 L466.9 804.94 L467.1 805.3" stroke="#2f66a6" stroke-width="1.8" fill="none" stroke-linejoin="round"/>
<path d="M211.1 860.09V864.37M208.6 860.09h5M208.6 864.37h5M217.93 815.86V821.84M215.43 815.86h5M215.43 821.84h5M225.46 757.68V807.37M222.96 757.68h5M222.96 807.37h5M232.38 744.87V776.92M229.88 744.87h5M229.88 776.92h5M238.81 740.98V749.99M236.31 740.98h5M236.31 749.99h5M245.24 725.23V738.65M242.74 725.23h5M242.74 738.65h5M251.67 716.71V733.5M249.17 716.71h5M249.17 733.5h5M258.09 714.15V730.17M255.59 714.15h5M255.59 730.17h5M264.52 712.09V729.37M262.02 712.09h5M262.02 729.37h5M270.95 709.38V730.95M268.45 709.38h5M268.45 730.95h5M277.38 705.09V733.8M274.88 705.09h5M274.88 733.8h5M283.8 703.8V736.31M281.3 703.8h5M281.3 736.31h5M290.23 702.76V738.53M287.73 702.76h5M287.73 738.53h5M296.66 703.5V738.17M294.16 703.5h5M294.16 738.17h5M303.09 709.88V736.18M300.59 709.88h5M300.59 736.18h5M309.51 715.97V734.69M307.01 715.97h5M307.01 734.69h5M315.94 719.73V733.88M313.44 719.73h5M313.44 733.88h5M322.37 724.92V730.88M319.87 724.92h5M319.87 730.88h5M328.8 726.86V729.93M326.3 726.86h5M326.3 729.93h5M335.22 727.61V733M332.72 727.61h5M332.72 733h5M341.65 729.48V734.21M339.15 729.48h5M339.15 734.21h5M348.08 733.43V735.43M345.58 733.43h5M345.58 735.43h5M354.51 736.05V738.03M352.01 736.05h5M352.01 738.03h5M360.93 738.73V740.68M358.43 738.73h5M358.43 740.68h5M367.36 739.54V741.48M364.86 739.54h5M364.86 741.48h5M373.79 742.54V744.45M371.29 742.54h5M371.29 744.45h5M380.22 744.86V746.75M377.72 744.86h5M377.72 746.75h5M386.64 747.04V748.91M384.14 747.04h5M384.14 748.91h5M393.07 750.15V752M390.57 750.15h5M390.57 752h5M399.5 752.26V754.09M397 752.26h5M397 754.09h5M405.93 753.57V755.38M403.43 753.57h5M403.43 755.38h5M412.35 755.16V756.95M409.85 755.16h5M409.85 756.95h5M418.78 757.41V759.17M416.28 757.41h5M416.28 759.17h5M425.21 759.48V761.22M422.71 759.48h5M422.71 761.22h5M431.64 762.64V764.36M429.14 762.64h5M429.14 764.36h5M438.06 767.31V769.01M435.56 767.31h5M435.56 769.01h5M444.49 775.19V776.87M441.99 775.19h5M441.99 776.87h5M450.92 782.04V783.7M448.42 782.04h5M448.42 783.7h5M457.35 789.47V791.1M454.85 789.47h5M454.85 791.1h5M463.77 798.27V799.88M461.27 798.27h5M461.27 799.88h5" stroke="#2b2b2b" stroke-width="0.65" fill="none" opacity="0.9"/>
<path d="M209.9 868.6 L210.9 863.28 L211.9 858 L212.9 852.51 L213.9 846.54 L214.9 840.04 L215.9 833.27 L216.9 826.28 L217.9 819.05 L218.9 812.04 L219.9 805.32 L220.9 798.62 L221.9 791.71 L222.9 785.03 L223.9 779 L224.9 773.33 L225.9 767.78 L226.9 762.39 L227.9 757.3 L228.9 752.47 L229.9 748.07 L230.9 744.28 L231.9 740.63 L232.9 736.44 L233.9 731.38 L234.9 726.03 L235.9 721.1 L236.9 716.61 L237.9 712.36 L238.9 708.72 L239.9 705.84 L240.9 703.32 L241.9 701.09 L242.9 699.16 L243.9 697.49 L244.9 696.01 L245.9 694.69 L246.9 693.49 L247.9 692.4 L248.9 691.39 L249.9 690.44 L250.9 689.54 L251.9 688.69 L252.9 687.92 L253.9 687.23 L254.9 686.65 L255.9 686.1 L256.9 685.58 L257.9 685.11 L258.9 684.73 L259.9 684.47 L260.9 684.32 L261.9 684.2 L262.9 684.1 L263.9 684.04 L264.9 684 L265.9 684.02 L266.9 684.12 L267.9 684.28 L268.9 684.49 L269.9 684.73 L270.9 684.98 L271.9 685.23 L272.9 685.54 L273.9 685.91 L274.9 686.32 L275.9 686.76 L276.9 687.23 L277.9 687.7 L278.9 688.21 L279.9 688.77 L280.9 689.37 L281.9 690 L282.9 690.63 L283.9 691.26 L284.9 691.86 L285.9 692.44 L286.9 693.01 L287.9 693.58 L288.9 694.15 L289.9 694.72 L290.9 695.3 L291.9 695.9 L292.9 696.51 L293.9 697.13 L294.9 697.74 L295.9 698.33 L296.9 698.9 L297.9 699.46 L298.9 700.04 L299.9 700.64 L300.9 701.27 L301.9 701.91 L302.9 702.54 L303.9 703.13 L304.9 703.68 L305.9 704.22 L306.9 704.77 L307.9 705.37 L308.9 706.03 L309.9 706.8 L310.9 707.71 L311.9 708.74 L312.9 709.85 L313.9 711.07 L314.9 712.44 L315.9 713.9 L316.9 715.52 L317.9 717.25 L318.9 718.81 L319.9 719.99 L320.9 720.97 L321.9 721.9 L322.9 722.93 L323.9 724.03 L324.9 725.16 L325.9 726.29 L326.9 727.39 L327.9 728.43 L328.9 729.37 L329.9 730.25 L330.9 731.09 L331.9 731.89 L332.9 732.66 L333.9 733.42 L334.9 734.17 L335.9 734.93 L336.9 735.68 L337.9 736.41 L338.9 737.13 L339.9 737.83 L340.9 738.51 L341.9 739.16 L342.9 739.83 L343.9 740.5 L344.9 741.15 L345.9 741.74 L346.9 742.26 L347.9 742.67 L348.9 742.96 L349.9 743.19 L350.9 743.37 L351.9 743.55 L352.9 743.76 L353.9 744.03 L354.9 744.43 L355.9 745.07 L356.9 745.83 L357.9 746.5 L358.9 747.05 L359.9 747.55 L360.9 748 L361.9 748.39 L362.9 748.73 L363.9 749.05 L364.9 749.37 L365.9 749.72 L366.9 750.12 L367.9 750.61 L368.9 751.2 L369.9 751.89 L370.9 752.62 L371.9 753.39 L372.9 754.14 L373.9 754.87 L374.9 755.62 L375.9 756.41 L376.9 757.21 L377.9 757.97 L378.9 758.66 L379.9 759.25 L380.9 759.73 L381.9 760.21 L382.9 760.65 L383.9 761.05 L384.9 761.38 L385.9 761.6 L386.9 761.71 L387.9 761.76 L388.9 761.8 L389.9 761.82 L390.9 761.86 L391.9 761.9 L392.9 761.96 L393.9 762.04 L394.9 762.13 L395.9 762.24 L396.9 762.35 L397.9 762.48 L398.9 762.61 L399.9 762.77 L400.9 762.95 L401.9 763.16 L402.9 763.38 L403.9 763.6 L404.9 763.84 L405.9 764.07 L406.9 764.31 L407.9 764.56 L408.9 764.83 L409.9 765.1 L410.9 765.37 L411.9 765.64 L412.9 765.91 L413.9 766.17 L414.9 766.43 L415.9 766.7 L416.9 766.97 L417.9 767.25 L418.9 767.55 L419.9 767.86 L420.9 768.18 L421.9 768.52 L422.9 768.88 L423.9 769.24 L424.9 769.63 L425.9 770.02 L426.9 770.44 L427.9 770.87 L428.9 771.32 L429.9 771.79 L430.9 772.26 L431.9 772.75 L432.9 773.25 L433.9 773.76 L434.9 774.29 L435.9 774.83 L436.9 775.38 L437.9 775.94 L438.9 776.52 L439.9 777.11 L440.9 777.71 L441.9 778.33 L442.9 778.96 L443.9 779.6 L444.9 780.26 L445.9 780.94 L446.9 781.64 L447.9 782.35 L448.9 783.08 L449.9 783.82 L450.9 784.58 L451.9 785.34 L452.9 786.1 L453.9 786.89 L454.9 787.71 L455.9 788.57 L456.9 789.48 L457.9 790.42 L458.9 791.4 L459.9 792.44 L460.9 793.55 L461.9 794.75 L462.9 796.09 L463.9 797.61 L464.9 799.27 L465.9 801.14 L466.9 803.11 L467.1 803.5" stroke="#cf2460" stroke-width="1.8" fill="none" stroke-linejoin="round"/>
<path d="M211.1 860.01V864.45M208.6 860.01h5M208.6 864.45h5M217.93 815.37V822.34M215.43 815.37h5M215.43 822.34h5M225.46 762.27V778.21M222.96 762.27h5M222.96 778.21h5M232.38 724.74V752.71M229.88 724.74h5M229.88 752.71h5M238.81 701.01V717.01M236.31 701.01h5M236.31 717.01h5M245.24 687.54V703.56M242.74 687.54h5M242.74 703.56h5M251.67 678.91V698.86M249.17 678.91h5M249.17 698.86h5M258.09 677.72V692.34M255.59 677.72h5M255.59 692.34h5M264.52 676.01V692.01M262.02 676.01h5M262.02 692.01h5M270.95 676.99V692.99M268.45 676.99h5M268.45 692.99h5M277.38 679.43V695.47M274.88 679.43h5M274.88 695.47h5M283.8 682.34V700.05M281.3 682.34h5M281.3 700.05h5M290.23 684.43V705.4M287.73 684.43h5M287.73 705.4h5M296.66 688.92V708.6M294.16 688.92h5M294.16 708.6h5M303.09 696.85V708.45M300.59 696.85h5M300.59 708.45h5M309.51 700.65V712.32M307.01 700.65h5M307.01 712.32h5M315.94 706.27V721.65M313.44 706.27h5M313.44 721.65h5M322.37 716.57V728.17M319.87 716.57h5M319.87 728.17h5M328.8 723.56V735M326.3 723.56h5M326.3 735h5M335.22 731.42V737.41M332.72 731.42h5M332.72 737.41h5M341.65 736.96V741.03M339.15 736.96h5M339.15 741.03h5M348.08 739.23V746.22M345.58 739.23h5M345.58 746.22h5M354.51 741.27V747.21M352.01 741.27h5M352.01 747.21h5M360.93 746.99V749.03M358.43 746.99h5M358.43 749.03h5M367.36 749.33V751.33M364.86 749.33h5M364.86 751.33h5M373.79 753.79V755.79M371.29 753.79h5M371.29 755.79h5M380.22 756.91V761.91M377.72 756.91h5M377.72 761.91h5M386.64 759.1V764.3M384.14 759.1h5M384.14 764.3h5M393.07 760.98V762.98M390.57 760.98h5M390.57 762.98h5M399.5 761.7V763.7M397 761.7h5M397 763.7h5M405.93 763.08V765.08M403.43 763.08h5M403.43 765.08h5M412.35 764.76V766.76M409.85 764.76h5M409.85 766.76h5M418.78 766.51V768.51M416.28 766.51h5M416.28 768.51h5M425.21 768.75V770.75M422.71 768.75h5M422.71 770.75h5M431.64 771.62V773.62M429.14 771.62h5M429.14 773.62h5M438.06 775.04V777.04M435.56 775.04h5M435.56 777.04h5M444.49 778.81V781.18M441.99 778.81h5M441.99 781.18h5M450.92 781.21V787.97M448.42 781.21h5M448.42 787.97h5M457.35 788.67V791.11M454.85 788.67h5M454.85 791.11h5M463.77 792.41V802.41M461.27 792.41h5M461.27 802.41h5" stroke="#2b2b2b" stroke-width="0.65" fill="none" opacity="0.9"/>
<path d="M209.9 868.6 L210.9 861.95 L211.9 855.27 L212.9 848.1 L213.9 840.12 L214.9 831.9 L215.9 823.73 L216.9 815.66 L217.9 807.97 L218.9 800.61 L219.9 793.77 L220.9 787.38 L221.9 781.12 L222.9 774.92 L223.9 769.03 L224.9 763.51 L225.9 758.3 L226.9 753.38 L227.9 748.73 L228.9 744.39 L229.9 740.38 L230.9 736.79 L231.9 733.44 L232.9 730.07 L233.9 726.57 L234.9 723.13 L235.9 720 L236.9 717.17 L237.9 714.5 L238.9 712.01 L239.9 709.74 L240.9 707.68 L241.9 705.75 L242.9 703.96 L243.9 702.35 L244.9 700.97 L245.9 699.76 L246.9 698.65 L247.9 697.65 L248.9 696.74 L249.9 695.91 L250.9 695.14 L251.9 694.37 L252.9 693.64 L253.9 693 L254.9 692.5 L255.9 692.2 L256.9 692.02 L257.9 691.87 L258.9 691.74 L259.9 691.65 L260.9 691.61 L261.9 691.63 L262.9 691.86 L263.9 692.26 L264.9 692.76 L265.9 693.3 L266.9 694 L267.9 694.96 L268.9 696.07 L269.9 697.24 L270.9 698.37 L271.9 699.41 L272.9 700.43 L273.9 701.47 L274.9 702.49 L275.9 703.5 L276.9 704.48 L277.9 705.42 L278.9 706.31 L279.9 707.18 L280.9 708.03 L281.9 708.85 L282.9 709.65 L283.9 710.42 L284.9 711.17 L285.9 711.91 L286.9 712.62 L287.9 713.31 L288.9 713.99 L289.9 714.65 L290.9 715.29 L291.9 715.91 L292.9 716.5 L293.9 717.07 L294.9 717.64 L295.9 718.23 L296.9 718.82 L297.9 719.41 L298.9 720.01 L299.9 720.59 L300.9 721.16 L301.9 721.72 L302.9 722.25 L303.9 722.77 L304.9 723.3 L305.9 723.81 L306.9 724.3 L307.9 724.75 L308.9 725.13 L309.9 725.45 L310.9 725.69 L311.9 725.89 L312.9 726.08 L313.9 726.27 L314.9 726.51 L315.9 726.8 L316.9 727.21 L317.9 727.74 L318.9 728.36 L319.9 729.02 L320.9 729.7 L321.9 730.35 L322.9 730.96 L323.9 731.59 L324.9 732.22 L325.9 732.84 L326.9 733.45 L327.9 734.02 L328.9 734.55 L329.9 735.05 L330.9 735.52 L331.9 735.97 L332.9 736.41 L333.9 736.84 L334.9 737.27 L335.9 737.69 L336.9 738.08 L337.9 738.45 L338.9 738.83 L339.9 739.24 L340.9 739.69 L341.9 740.22 L342.9 740.87 L343.9 741.61 L344.9 742.41 L345.9 743.25 L346.9 744.1 L347.9 744.92 L348.9 745.72 L349.9 746.54 L350.9 747.36 L351.9 748.2 L352.9 749.04 L353.9 749.88 L354.9 750.73 L355.9 751.63 L356.9 752.51 L357.9 753.3 L358.9 754.01 L359.9 754.65 L360.9 755.2 L361.9 755.65 L362.9 756.03 L363.9 756.38 L364.9 756.71 L365.9 757.05 L366.9 757.43 L367.9 757.87 L368.9 758.34 L369.9 758.85 L370.9 759.37 L371.9 759.9 L372.9 760.43 L373.9 760.95 L374.9 761.49 L375.9 762.06 L376.9 762.64 L377.9 763.18 L378.9 763.68 L379.9 764.09 L380.9 764.42 L381.9 764.7 L382.9 764.94 L383.9 765.16 L384.9 765.38 L385.9 765.6 L386.9 765.85 L387.9 766.12 L388.9 766.39 L389.9 766.67 L390.9 766.94 L391.9 767.2 L392.9 767.45 L393.9 767.69 L394.9 767.92 L395.9 768.15 L396.9 768.38 L397.9 768.6 L398.9 768.82 L399.9 769.04 L400.9 769.26 L401.9 769.47 L402.9 769.68 L403.9 769.88 L404.9 770.07 L405.9 770.25 L406.9 770.43 L407.9 770.6 L408.9 770.76 L409.9 770.91 L410.9 771.07 L411.9 771.21 L412.9 771.36 L413.9 771.49 L414.9 771.62 L415.9 771.74 L416.9 771.87 L417.9 771.99 L418.9 772.13 L419.9 772.27 L420.9 772.41 L421.9 772.56 L422.9 772.71 L423.9 772.88 L424.9 773.06 L425.9 773.26 L426.9 773.5 L427.9 773.77 L428.9 774.07 L429.9 774.38 L430.9 774.71 L431.9 775.03 L432.9 775.36 L433.9 775.71 L434.9 776.07 L435.9 776.44 L436.9 776.84 L437.9 777.26 L438.9 777.71 L439.9 778.22 L440.9 778.75 L441.9 779.3 L442.9 779.84 L443.9 780.35 L444.9 780.83 L445.9 781.3 L446.9 781.75 L447.9 782.2 L448.9 782.64 L449.9 783.08 L450.9 783.52 L451.9 783.98 L452.9 784.44 L453.9 784.89 L454.9 785.33 L455.9 785.74 L456.9 786.11 L457.9 786.51 L458.9 786.92 L459.9 787.29 L460.9 787.57 L461.9 787.7 L462.9 787.7 L463.9 787.7 L464.9 787.7 L465.9 787.7 L466.9 787.7 L467.1 787.7" stroke="#2d9a5c" stroke-width="1.8" fill="none" stroke-linejoin="round"/>
<path d="M211.1 858.2V863.07M208.6 858.2h5M208.6 863.07h5M217.93 802.79V812.73M215.43 802.79h5M215.43 812.73h5M225.46 754.59V766.58M222.96 754.59h5M222.96 766.58h5M232.38 722.84V740.83M229.88 722.84h5M229.88 740.83h5M238.81 702.21V722.24M236.31 702.21h5M236.31 722.24h5M245.24 682.05V719.05M242.74 682.05h5M242.74 719.05h5M251.67 676.03V713.06M249.17 676.03h5M249.17 713.06h5M258.09 671.87V711.82M255.59 671.87h5M255.59 711.82h5M264.52 674.08V711.04M262.02 674.08h5M262.02 711.04h5M270.95 681.16V715.7M268.45 681.16h5M268.45 715.7h5M277.38 689.02V720.84M274.88 689.02h5M274.88 720.84h5M283.8 697.76V722.93M281.3 697.76h5M281.3 722.93h5M290.23 705.89V723.82M287.73 705.89h5M287.73 723.82h5M296.66 710.67V726.67M294.16 710.67h5M294.16 726.67h5M303.09 714.36V730.33M300.59 714.36h5M300.59 730.33h5M309.51 718.35V732.32M307.01 718.35h5M307.01 732.32h5M315.94 720.82V732.81M313.44 720.82h5M313.44 732.81h5M322.37 725.06V736.22M319.87 725.06h5M319.87 736.22h5M328.8 731.06V737.94M326.3 731.06h5M326.3 737.94h5M335.22 735.91V738.91M332.72 735.91h5M332.72 738.91h5M341.65 738.83V741.33M339.15 738.83h5M339.15 741.33h5M348.08 744.06V746.07M345.58 744.06h5M345.58 746.07h5M354.51 748.9V751.88M352.01 748.9h5M352.01 751.88h5M360.93 754.21V756.22M358.43 754.21h5M358.43 756.22h5M367.36 756.64V758.61M364.86 756.64h5M364.86 758.61h5M373.79 759.92V761.87M371.29 759.92h5M371.29 761.87h5M380.22 763.24V765.17M377.72 763.24h5M377.72 765.17h5M386.64 764.83V766.74M384.14 764.83h5M384.14 766.74h5M393.07 766.55V768.43M390.57 766.55h5M390.57 768.43h5M399.5 768.02V769.88M397 768.02h5M397 769.88h5M405.93 769.34V771.17M403.43 769.34h5M403.43 771.17h5M412.35 770.37V772.18M409.85 770.37h5M409.85 772.18h5M418.78 771.22V773M416.28 771.22h5M416.28 773h5M425.21 772.24V774M422.71 772.24h5M422.71 774h5M431.64 774.08V775.81M429.14 774.08h5M429.14 775.81h5M438.06 776.47V778.18M435.56 776.47h5M435.56 778.18h5M444.49 779.8V781.48M441.99 779.8h5M441.99 781.48h5M450.92 782.7V784.36M448.42 782.7h5M448.42 784.36h5M457.35 785.47V787.11M454.85 785.47h5M454.85 787.11h5M463.77 786.89V788.51M461.27 786.89h5M461.27 788.51h5" stroke="#2b2b2b" stroke-width="0.65" fill="none" opacity="0.9"/>
<text x="205" y="902.6" text-anchor="end" class="tk">0</text>
<text x="205" y="851.8" text-anchor="end" class="tk">0.04</text>
<text x="205" y="800.2" text-anchor="end" class="tk">0.08</text>
<text x="205" y="748.6" text-anchor="end" class="tk">0.12</text>
<text x="205" y="697" text-anchor="end" class="tk">0.16</text>
<text x="205" y="645.4" text-anchor="end" class="tk">0.2</text>
<text x="201.9" y="913.45" class="tk">10<tspan dy="-4.7" class="sup">-8</tspan></text>
<text x="262" y="913.45" class="tk">10<tspan dy="-4.7" class="sup">-6</tspan></text>
<text x="338" y="916.45" class="tk" text-anchor="middle">0.0001</text>
<text x="401" y="916.45" class="tk" text-anchor="middle">0.01</text>
<text x="466.5" y="916.45" class="tk" text-anchor="middle">1</text>
<text x="270.1" y="939.4" class="ti" textLength="136.5" lengthAdjust="spacingAndGlyphs">sliding velocity [m/s]</text>
<text transform="translate(169.6 845.7) rotate(-90)" class="ty" style="font-size:15.6px" textLength="147.1" lengthAdjust="spacingAndGlyphs">friction coefficient [-]</text>
<text x="212.9" y="659.9" class="tag" textLength="17.3" lengthAdjust="spacingAndGlyphs">(e)</text>
<text x="224.15" y="877.6" class="tk2">-10°C</text>
<path d="M385.6 835.8h10" stroke="#2f66a6" stroke-width="1.6"/>
<text x="398.8" y="840.6" class="lg">base oil</text>
<path d="M385.6 855.45h10" stroke="#cf2460" stroke-width="1.6"/>
<text x="398.8" y="860.25" class="lg">0.5%</text>
<path d="M385.6 875.1h10" stroke="#2d9a5c" stroke-width="1.6"/>
<text x="398.8" y="879.9" class="lg">1%</text>
</g>
</svg>
</body>
</html>
